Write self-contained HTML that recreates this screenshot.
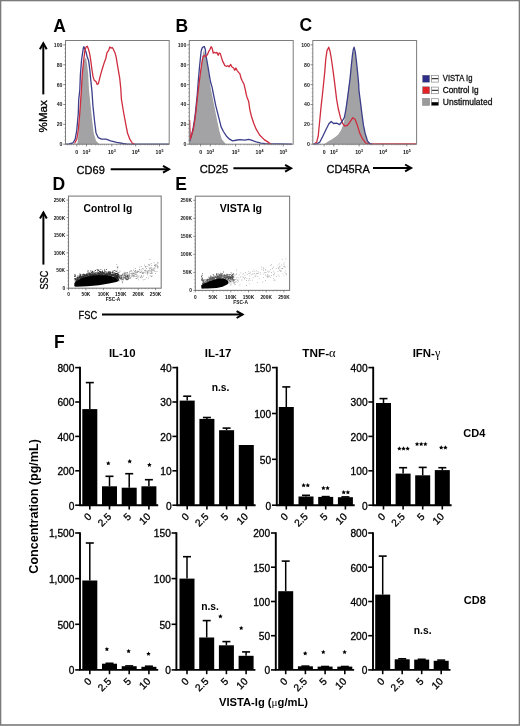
<!DOCTYPE html>
<html><head><meta charset="utf-8"><style>
html,body{margin:0;padding:0;background:#fff;}
svg{display:block;font-family:"Liberation Sans", sans-serif;will-change:transform;}
</style></head><body>
<svg width="520" height="726" viewBox="0 0 520 726">
<defs><filter id="blr" x="-10%" y="-30%" width="120%" height="160%"><feGaussianBlur stdDeviation="1"/></filter></defs>
<rect width="520" height="726" fill="#fff"/>
<rect x="0.5" y="0.5" width="519" height="724.5" fill="none" stroke="#7a7a7a" stroke-width="1.6"/>
<text x="53.2" y="32.1" font-size="17.5" font-weight="bold" text-anchor="start" fill="#000" >A</text>
<text x="175.5" y="32" font-size="17.5" font-weight="bold" text-anchor="start" fill="#000" >B</text>
<text x="299.5" y="31" font-size="17.5" font-weight="bold" text-anchor="start" fill="#000" >C</text>
<text x="52.5" y="189.8" font-size="17.5" font-weight="bold" text-anchor="start" fill="#000" >D</text>
<text x="175.3" y="189.8" font-size="17.5" font-weight="bold" text-anchor="start" fill="#000" >E</text>
<text x="54" y="348.1" font-size="17.5" font-weight="bold" text-anchor="start" fill="#000" >F</text>
<line x1="43.3" y1="94.4" x2="43.3" y2="43.3" stroke="#000" stroke-width="2.0"/>
<polyline points="46.7,49.3 43.3,43.3 39.9,49.3" fill="none" stroke="#000" stroke-width="2.0" stroke-linejoin="miter" stroke-linecap="butt"/>
<text x="46.9" y="132.8" font-size="11.6" font-weight="normal" text-anchor="start" fill="#000" transform="rotate(-90 46.8 132.5)" stroke="#000" stroke-width="0.3">%Max</text>
<text x="76.6" y="173.6" font-size="11.8" font-weight="normal" text-anchor="start" fill="#000"  textLength="28.2" lengthAdjust="spacingAndGlyphs" stroke="#000" stroke-width="0.3">CD69</text>
<line x1="110.7" y1="169.2" x2="169" y2="169.2" stroke="#000" stroke-width="2.0"/>
<polyline points="163,172.6 169,169.2 163,165.8" fill="none" stroke="#000" stroke-width="2.0" stroke-linejoin="miter" stroke-linecap="butt"/>
<text x="199.8" y="173.3" font-size="11.8" font-weight="normal" text-anchor="start" fill="#000"  textLength="28.4" lengthAdjust="spacingAndGlyphs" stroke="#000" stroke-width="0.3">CD25</text>
<line x1="233.4" y1="168.3" x2="291.1" y2="168.3" stroke="#000" stroke-width="2.0"/>
<polyline points="285.1,171.7 291.1,168.3 285.1,164.9" fill="none" stroke="#000" stroke-width="2.0" stroke-linejoin="miter" stroke-linecap="butt"/>
<text x="326.6" y="173.3" font-size="11.8" font-weight="normal" text-anchor="start" fill="#000"  textLength="43.2" lengthAdjust="spacingAndGlyphs" stroke="#000" stroke-width="0.3">CD45RA</text>
<line x1="373" y1="167.9" x2="411.1" y2="167.9" stroke="#000" stroke-width="2.0"/>
<polyline points="405.1,171.3 411.1,167.9 405.1,164.5" fill="none" stroke="#000" stroke-width="2.0" stroke-linejoin="miter" stroke-linecap="butt"/>
<rect x="65.5" y="40.5" width="103.7" height="103.7" fill="#fff"/>
<polygon points="75.5,144.2 77.5,143.3 78.3,135 79.5,118 80.4,100 81.3,86 82.2,74.6 83.4,63 84.5,59 85.4,57.8 86.3,59 87.3,66 88.2,74.6 89,90 90.6,105.4 92.2,120.8 93.7,133 96,140.8 98.3,143.2 99.5,144.2" fill="#a3a3a5" stroke="none"/>
<polyline points="66,144.2 69.1,143.8 72.9,143 75.2,139.2 76.8,130 78.3,113 78.7,100 79.8,90 80.4,74.6 81.6,59.6 83.3,48.1 83.9,46.7 85,49.2 86.2,52.7 87.3,57.3 88.5,60.2 89.7,68.8 90.8,80.4 92,91.9 92.9,105.4 94.5,120.8 96,133 98.3,137.7 101.4,139.2 106,139.2 110.6,140.8 116.8,142.3 122.9,143.5 127.5,144.2 169,144.2" fill="none" stroke="#3c3e8a" stroke-width="1.3" stroke-linejoin="round"/>
<polyline points="74.5,143.5 76.8,139.2 78.3,130 79.8,113 81.4,90 82.2,74.6 83.9,58.5 85,49.8 86.2,46.9 87.3,46.3 88.5,49.2 89.7,53.8 90.8,60.8 92,70 93.1,76.9 94.3,80.4 96,81.5 97.2,84.4 98.3,83.8 99.5,79.2 100.6,74.6 102.3,68.8 104.1,63.1 105.8,58.5 107,52.7 108.7,50.4 109.8,46.9 111,48.1 112.2,47.5 113.3,49.2 115,52.7 116.2,57.3 117.3,64.2 118.5,71.2 119.7,78.1 120.8,88.5 121.4,99.2 123.7,113 126,125.4 127.5,133 129.8,139.2 132.2,143 134.5,144.2" fill="none" stroke="#cf2c3e" stroke-width="1.3" stroke-linejoin="round"/>
<rect x="65.5" y="40.5" width="103.7" height="103.7" fill="none" stroke="#7d7d7d" stroke-width="1"/>
<line x1="63.3" y1="144.2" x2="65.5" y2="144.2" stroke="#555" stroke-width="0.7"/>
<text x="62.5" y="146.1" font-size="5.2" font-weight="bold" text-anchor="end" fill="#222" >0</text>
<line x1="64.3" y1="140.2" x2="65.5" y2="140.2" stroke="#777" stroke-width="0.5"/>
<line x1="64.3" y1="136.3" x2="65.5" y2="136.3" stroke="#777" stroke-width="0.5"/>
<line x1="64.3" y1="132.3" x2="65.5" y2="132.3" stroke="#777" stroke-width="0.5"/>
<line x1="64.3" y1="128.3" x2="65.5" y2="128.3" stroke="#777" stroke-width="0.5"/>
<line x1="63.3" y1="124.3" x2="65.5" y2="124.3" stroke="#555" stroke-width="0.7"/>
<text x="62.5" y="126.2" font-size="5.2" font-weight="bold" text-anchor="end" fill="#222" >20</text>
<line x1="64.3" y1="120.4" x2="65.5" y2="120.4" stroke="#777" stroke-width="0.5"/>
<line x1="64.3" y1="116.4" x2="65.5" y2="116.4" stroke="#777" stroke-width="0.5"/>
<line x1="64.3" y1="112.4" x2="65.5" y2="112.4" stroke="#777" stroke-width="0.5"/>
<line x1="64.3" y1="108.5" x2="65.5" y2="108.5" stroke="#777" stroke-width="0.5"/>
<line x1="63.3" y1="104.5" x2="65.5" y2="104.5" stroke="#555" stroke-width="0.7"/>
<text x="62.5" y="106.4" font-size="5.2" font-weight="bold" text-anchor="end" fill="#222" >40</text>
<line x1="64.3" y1="100.5" x2="65.5" y2="100.5" stroke="#777" stroke-width="0.5"/>
<line x1="64.3" y1="96.5" x2="65.5" y2="96.5" stroke="#777" stroke-width="0.5"/>
<line x1="64.3" y1="92.6" x2="65.5" y2="92.6" stroke="#777" stroke-width="0.5"/>
<line x1="64.3" y1="88.6" x2="65.5" y2="88.6" stroke="#777" stroke-width="0.5"/>
<line x1="63.3" y1="84.6" x2="65.5" y2="84.6" stroke="#555" stroke-width="0.7"/>
<text x="62.5" y="86.5" font-size="5.2" font-weight="bold" text-anchor="end" fill="#222" >60</text>
<line x1="64.3" y1="80.6" x2="65.5" y2="80.6" stroke="#777" stroke-width="0.5"/>
<line x1="64.3" y1="76.7" x2="65.5" y2="76.7" stroke="#777" stroke-width="0.5"/>
<line x1="64.3" y1="72.7" x2="65.5" y2="72.7" stroke="#777" stroke-width="0.5"/>
<line x1="64.3" y1="68.7" x2="65.5" y2="68.7" stroke="#777" stroke-width="0.5"/>
<line x1="63.3" y1="64.8" x2="65.5" y2="64.8" stroke="#555" stroke-width="0.7"/>
<text x="62.5" y="66.7" font-size="5.2" font-weight="bold" text-anchor="end" fill="#222" >80</text>
<line x1="64.3" y1="60.8" x2="65.5" y2="60.8" stroke="#777" stroke-width="0.5"/>
<line x1="64.3" y1="56.8" x2="65.5" y2="56.8" stroke="#777" stroke-width="0.5"/>
<line x1="64.3" y1="52.8" x2="65.5" y2="52.8" stroke="#777" stroke-width="0.5"/>
<line x1="64.3" y1="48.9" x2="65.5" y2="48.9" stroke="#777" stroke-width="0.5"/>
<line x1="63.3" y1="44.9" x2="65.5" y2="44.9" stroke="#555" stroke-width="0.7"/>
<text x="62.5" y="46.8" font-size="5.2" font-weight="bold" text-anchor="end" fill="#222" >100</text>
<line x1="76.8" y1="144.2" x2="76.8" y2="146.4" stroke="#555" stroke-width="0.7"/>
<text x="76.8" y="154.2" font-size="5.2" font-weight="bold" text-anchor="middle" fill="#111" >0</text>
<line x1="86.5" y1="144.2" x2="86.5" y2="146.4" stroke="#555" stroke-width="0.7"/>
<text x="86.5" y="154.2" font-size="5.2" font-weight="bold" text-anchor="middle" fill="#111" >10<tspan font-size="3.6" dy="-2">2</tspan></text>
<line x1="111.8" y1="144.2" x2="111.8" y2="146.4" stroke="#555" stroke-width="0.7"/>
<text x="111.8" y="154.2" font-size="5.2" font-weight="bold" text-anchor="middle" fill="#111" >10<tspan font-size="3.6" dy="-2">3</tspan></text>
<line x1="135.7" y1="144.2" x2="135.7" y2="146.4" stroke="#555" stroke-width="0.7"/>
<text x="135.7" y="154.2" font-size="5.2" font-weight="bold" text-anchor="middle" fill="#111" >10<tspan font-size="3.6" dy="-2">4</tspan></text>
<line x1="159.5" y1="144.2" x2="159.5" y2="146.4" stroke="#555" stroke-width="0.7"/>
<text x="159.5" y="154.2" font-size="5.2" font-weight="bold" text-anchor="middle" fill="#111" >10<tspan font-size="3.6" dy="-2">5</tspan></text>
<line x1="67.5" y1="144.2" x2="67.5" y2="145.4" stroke="#777" stroke-width="0.5"/>
<line x1="69.5" y1="144.2" x2="69.5" y2="145.4" stroke="#777" stroke-width="0.5"/>
<line x1="71.5" y1="144.2" x2="71.5" y2="145.4" stroke="#777" stroke-width="0.5"/>
<line x1="73.5" y1="144.2" x2="73.5" y2="145.4" stroke="#777" stroke-width="0.5"/>
<line x1="79.5" y1="144.2" x2="79.5" y2="145.4" stroke="#777" stroke-width="0.5"/>
<line x1="82.5" y1="144.2" x2="82.5" y2="145.4" stroke="#777" stroke-width="0.5"/>
<line x1="91.5" y1="144.2" x2="91.5" y2="145.4" stroke="#777" stroke-width="0.5"/>
<line x1="95.5" y1="144.2" x2="95.5" y2="145.4" stroke="#777" stroke-width="0.5"/>
<line x1="98.5" y1="144.2" x2="98.5" y2="145.4" stroke="#777" stroke-width="0.5"/>
<line x1="100.5" y1="144.2" x2="100.5" y2="145.4" stroke="#777" stroke-width="0.5"/>
<line x1="102.5" y1="144.2" x2="102.5" y2="145.4" stroke="#777" stroke-width="0.5"/>
<line x1="104.5" y1="144.2" x2="104.5" y2="145.4" stroke="#777" stroke-width="0.5"/>
<line x1="106.5" y1="144.2" x2="106.5" y2="145.4" stroke="#777" stroke-width="0.5"/>
<line x1="108.5" y1="144.2" x2="108.5" y2="145.4" stroke="#777" stroke-width="0.5"/>
<line x1="116.5" y1="144.2" x2="116.5" y2="145.4" stroke="#777" stroke-width="0.5"/>
<line x1="120.5" y1="144.2" x2="120.5" y2="145.4" stroke="#777" stroke-width="0.5"/>
<line x1="123.5" y1="144.2" x2="123.5" y2="145.4" stroke="#777" stroke-width="0.5"/>
<line x1="125.5" y1="144.2" x2="125.5" y2="145.4" stroke="#777" stroke-width="0.5"/>
<line x1="127.5" y1="144.2" x2="127.5" y2="145.4" stroke="#777" stroke-width="0.5"/>
<line x1="129.5" y1="144.2" x2="129.5" y2="145.4" stroke="#777" stroke-width="0.5"/>
<line x1="131.5" y1="144.2" x2="131.5" y2="145.4" stroke="#777" stroke-width="0.5"/>
<line x1="133.5" y1="144.2" x2="133.5" y2="145.4" stroke="#777" stroke-width="0.5"/>
<line x1="140.5" y1="144.2" x2="140.5" y2="145.4" stroke="#777" stroke-width="0.5"/>
<line x1="144.5" y1="144.2" x2="144.5" y2="145.4" stroke="#777" stroke-width="0.5"/>
<line x1="147.5" y1="144.2" x2="147.5" y2="145.4" stroke="#777" stroke-width="0.5"/>
<line x1="149.5" y1="144.2" x2="149.5" y2="145.4" stroke="#777" stroke-width="0.5"/>
<line x1="151.5" y1="144.2" x2="151.5" y2="145.4" stroke="#777" stroke-width="0.5"/>
<line x1="153.5" y1="144.2" x2="153.5" y2="145.4" stroke="#777" stroke-width="0.5"/>
<line x1="155.5" y1="144.2" x2="155.5" y2="145.4" stroke="#777" stroke-width="0.5"/>
<line x1="157.5" y1="144.2" x2="157.5" y2="145.4" stroke="#777" stroke-width="0.5"/>
<line x1="163.5" y1="144.2" x2="163.5" y2="145.4" stroke="#777" stroke-width="0.5"/>
<line x1="166.5" y1="144.2" x2="166.5" y2="145.4" stroke="#777" stroke-width="0.5"/>
<rect x="189.3" y="40.5" width="103.9" height="103.7" fill="#fff"/>
<polygon points="189.6,144.2 189.6,141 190.3,139.2 191.8,134.5 193.4,129 194.7,121 195.9,112 196.8,103 197.8,94 199,84 200.7,70.8 201.8,60 203,53 204,50 205.3,56 206.8,60 208.4,70.8 209.5,80 211.1,90 214.2,105.4 217.2,120.8 219.5,131.5 221.8,139.2 224.9,143 226,144.2" fill="#a3a3a5" stroke="none"/>
<polyline points="189.6,141.5 190.3,139.2 191.8,134 193,129 194.3,121 195.5,112 196.4,103 197.3,94 198.2,82 199.5,67 200.3,59.2 201.1,51.5 202.2,47.7 203.4,46.9 204.3,46.5 205.3,49.5 205.9,55.3 207,61.1 208.2,68 209.3,74.9 210.5,81.8 212.2,87.6 212.6,90 215.7,105.4 218.8,117.7 221.1,126.9 223.4,131.5 226.5,136.2 229.5,139.2 232.6,140.8 237.2,140 240,139.6 244.6,140.2 248.7,139.4 251.5,140.2 256.2,141.9 260.8,143.1 265.4,143.7 292,144.2" fill="none" stroke="#3c3e8a" stroke-width="1.3" stroke-linejoin="round"/>
<polyline points="189.6,120 190.3,139.2 191.8,134.5 193.4,129 194.7,121 195.9,112 196.8,103 197.8,94 199,84 200.7,70.8 201.8,63.1 203,56.9 204.2,55.4 205.3,56.5 206.5,55.9 207.6,54.2 208.8,51.3 209.9,49.5 211.1,46.7 212.2,48.4 213.2,53 214.3,52.4 215.7,53 216.8,52.4 218.2,55.3 219.2,53 220.3,53.6 221.5,57.6 222.6,61.1 223.8,63.4 224.9,65.7 226.7,66.3 227.8,65.7 229,66.8 230.7,64.5 231.8,66.8 233.6,68 234.7,70.3 235.9,68 237,70.3 238.8,72.6 239.9,73.8 241.1,78.4 242.2,80.7 244,84.2 245.1,88.8 246.3,94.5 246.9,96.9 248.7,101.5 249.8,109.6 251.5,116.5 253.8,123.5 256.2,129.2 259.6,135 264.2,139.6 267.7,141.9 271.2,144.2" fill="none" stroke="#cf2c3e" stroke-width="1.3" stroke-linejoin="round"/>
<rect x="189.3" y="40.5" width="103.9" height="103.7" fill="none" stroke="#7d7d7d" stroke-width="1"/>
<line x1="187.1" y1="144.2" x2="189.3" y2="144.2" stroke="#555" stroke-width="0.7"/>
<text x="186.3" y="146.1" font-size="5.2" font-weight="bold" text-anchor="end" fill="#222" >0</text>
<line x1="188.1" y1="140.2" x2="189.3" y2="140.2" stroke="#777" stroke-width="0.5"/>
<line x1="188.1" y1="136.3" x2="189.3" y2="136.3" stroke="#777" stroke-width="0.5"/>
<line x1="188.1" y1="132.3" x2="189.3" y2="132.3" stroke="#777" stroke-width="0.5"/>
<line x1="188.1" y1="128.3" x2="189.3" y2="128.3" stroke="#777" stroke-width="0.5"/>
<line x1="187.1" y1="124.3" x2="189.3" y2="124.3" stroke="#555" stroke-width="0.7"/>
<text x="186.3" y="126.2" font-size="5.2" font-weight="bold" text-anchor="end" fill="#222" >20</text>
<line x1="188.1" y1="120.4" x2="189.3" y2="120.4" stroke="#777" stroke-width="0.5"/>
<line x1="188.1" y1="116.4" x2="189.3" y2="116.4" stroke="#777" stroke-width="0.5"/>
<line x1="188.1" y1="112.4" x2="189.3" y2="112.4" stroke="#777" stroke-width="0.5"/>
<line x1="188.1" y1="108.5" x2="189.3" y2="108.5" stroke="#777" stroke-width="0.5"/>
<line x1="187.1" y1="104.5" x2="189.3" y2="104.5" stroke="#555" stroke-width="0.7"/>
<text x="186.3" y="106.4" font-size="5.2" font-weight="bold" text-anchor="end" fill="#222" >40</text>
<line x1="188.1" y1="100.5" x2="189.3" y2="100.5" stroke="#777" stroke-width="0.5"/>
<line x1="188.1" y1="96.5" x2="189.3" y2="96.5" stroke="#777" stroke-width="0.5"/>
<line x1="188.1" y1="92.6" x2="189.3" y2="92.6" stroke="#777" stroke-width="0.5"/>
<line x1="188.1" y1="88.6" x2="189.3" y2="88.6" stroke="#777" stroke-width="0.5"/>
<line x1="187.1" y1="84.6" x2="189.3" y2="84.6" stroke="#555" stroke-width="0.7"/>
<text x="186.3" y="86.5" font-size="5.2" font-weight="bold" text-anchor="end" fill="#222" >60</text>
<line x1="188.1" y1="80.6" x2="189.3" y2="80.6" stroke="#777" stroke-width="0.5"/>
<line x1="188.1" y1="76.7" x2="189.3" y2="76.7" stroke="#777" stroke-width="0.5"/>
<line x1="188.1" y1="72.7" x2="189.3" y2="72.7" stroke="#777" stroke-width="0.5"/>
<line x1="188.1" y1="68.7" x2="189.3" y2="68.7" stroke="#777" stroke-width="0.5"/>
<line x1="187.1" y1="64.8" x2="189.3" y2="64.8" stroke="#555" stroke-width="0.7"/>
<text x="186.3" y="66.7" font-size="5.2" font-weight="bold" text-anchor="end" fill="#222" >80</text>
<line x1="188.1" y1="60.8" x2="189.3" y2="60.8" stroke="#777" stroke-width="0.5"/>
<line x1="188.1" y1="56.8" x2="189.3" y2="56.8" stroke="#777" stroke-width="0.5"/>
<line x1="188.1" y1="52.8" x2="189.3" y2="52.8" stroke="#777" stroke-width="0.5"/>
<line x1="188.1" y1="48.9" x2="189.3" y2="48.9" stroke="#777" stroke-width="0.5"/>
<line x1="187.1" y1="44.9" x2="189.3" y2="44.9" stroke="#555" stroke-width="0.7"/>
<text x="186.3" y="46.8" font-size="5.2" font-weight="bold" text-anchor="end" fill="#222" >100</text>
<line x1="200.6" y1="144.2" x2="200.6" y2="146.4" stroke="#555" stroke-width="0.7"/>
<text x="200.6" y="154.2" font-size="5.2" font-weight="bold" text-anchor="middle" fill="#111" >0</text>
<line x1="210.3" y1="144.2" x2="210.3" y2="146.4" stroke="#555" stroke-width="0.7"/>
<text x="210.3" y="154.2" font-size="5.2" font-weight="bold" text-anchor="middle" fill="#111" >10<tspan font-size="3.6" dy="-2">2</tspan></text>
<line x1="235.6" y1="144.2" x2="235.6" y2="146.4" stroke="#555" stroke-width="0.7"/>
<text x="235.6" y="154.2" font-size="5.2" font-weight="bold" text-anchor="middle" fill="#111" >10<tspan font-size="3.6" dy="-2">3</tspan></text>
<line x1="259.5" y1="144.2" x2="259.5" y2="146.4" stroke="#555" stroke-width="0.7"/>
<text x="259.5" y="154.2" font-size="5.2" font-weight="bold" text-anchor="middle" fill="#111" >10<tspan font-size="3.6" dy="-2">4</tspan></text>
<line x1="283.3" y1="144.2" x2="283.3" y2="146.4" stroke="#555" stroke-width="0.7"/>
<text x="283.3" y="154.2" font-size="5.2" font-weight="bold" text-anchor="middle" fill="#111" >10<tspan font-size="3.6" dy="-2">5</tspan></text>
<line x1="191.3" y1="144.2" x2="191.3" y2="145.4" stroke="#777" stroke-width="0.5"/>
<line x1="193.3" y1="144.2" x2="193.3" y2="145.4" stroke="#777" stroke-width="0.5"/>
<line x1="195.3" y1="144.2" x2="195.3" y2="145.4" stroke="#777" stroke-width="0.5"/>
<line x1="197.3" y1="144.2" x2="197.3" y2="145.4" stroke="#777" stroke-width="0.5"/>
<line x1="203.3" y1="144.2" x2="203.3" y2="145.4" stroke="#777" stroke-width="0.5"/>
<line x1="206.3" y1="144.2" x2="206.3" y2="145.4" stroke="#777" stroke-width="0.5"/>
<line x1="215.3" y1="144.2" x2="215.3" y2="145.4" stroke="#777" stroke-width="0.5"/>
<line x1="219.3" y1="144.2" x2="219.3" y2="145.4" stroke="#777" stroke-width="0.5"/>
<line x1="222.3" y1="144.2" x2="222.3" y2="145.4" stroke="#777" stroke-width="0.5"/>
<line x1="224.3" y1="144.2" x2="224.3" y2="145.4" stroke="#777" stroke-width="0.5"/>
<line x1="226.3" y1="144.2" x2="226.3" y2="145.4" stroke="#777" stroke-width="0.5"/>
<line x1="228.3" y1="144.2" x2="228.3" y2="145.4" stroke="#777" stroke-width="0.5"/>
<line x1="230.3" y1="144.2" x2="230.3" y2="145.4" stroke="#777" stroke-width="0.5"/>
<line x1="232.3" y1="144.2" x2="232.3" y2="145.4" stroke="#777" stroke-width="0.5"/>
<line x1="240.3" y1="144.2" x2="240.3" y2="145.4" stroke="#777" stroke-width="0.5"/>
<line x1="244.3" y1="144.2" x2="244.3" y2="145.4" stroke="#777" stroke-width="0.5"/>
<line x1="247.3" y1="144.2" x2="247.3" y2="145.4" stroke="#777" stroke-width="0.5"/>
<line x1="249.3" y1="144.2" x2="249.3" y2="145.4" stroke="#777" stroke-width="0.5"/>
<line x1="251.3" y1="144.2" x2="251.3" y2="145.4" stroke="#777" stroke-width="0.5"/>
<line x1="253.3" y1="144.2" x2="253.3" y2="145.4" stroke="#777" stroke-width="0.5"/>
<line x1="255.3" y1="144.2" x2="255.3" y2="145.4" stroke="#777" stroke-width="0.5"/>
<line x1="257.3" y1="144.2" x2="257.3" y2="145.4" stroke="#777" stroke-width="0.5"/>
<line x1="264.3" y1="144.2" x2="264.3" y2="145.4" stroke="#777" stroke-width="0.5"/>
<line x1="268.3" y1="144.2" x2="268.3" y2="145.4" stroke="#777" stroke-width="0.5"/>
<line x1="271.3" y1="144.2" x2="271.3" y2="145.4" stroke="#777" stroke-width="0.5"/>
<line x1="273.3" y1="144.2" x2="273.3" y2="145.4" stroke="#777" stroke-width="0.5"/>
<line x1="275.3" y1="144.2" x2="275.3" y2="145.4" stroke="#777" stroke-width="0.5"/>
<line x1="277.3" y1="144.2" x2="277.3" y2="145.4" stroke="#777" stroke-width="0.5"/>
<line x1="279.3" y1="144.2" x2="279.3" y2="145.4" stroke="#777" stroke-width="0.5"/>
<line x1="281.3" y1="144.2" x2="281.3" y2="145.4" stroke="#777" stroke-width="0.5"/>
<line x1="287.3" y1="144.2" x2="287.3" y2="145.4" stroke="#777" stroke-width="0.5"/>
<line x1="290.3" y1="144.2" x2="290.3" y2="145.4" stroke="#777" stroke-width="0.5"/>
<rect x="312.8" y="40.5" width="103.8" height="103.7" fill="#fff"/>
<polygon points="324.3,144.2 328,141.5 332,139.2 336,136.5 338.2,134.6 341.2,130 342.8,125.4 344.3,120.8 345.8,108.5 348.2,90 349.5,80 351,68 352.4,57 353.5,51 354.3,49.5 355.3,53 356.4,62 357.6,73 358.7,84.2 359.6,95 360.5,102.3 362,114.6 363.5,125.4 365.1,133.1 367.4,140.8 369.3,144.2" fill="#a3a3a5" stroke="none"/>
<polyline points="314.3,143.8 316.6,142.3 318.2,136.2 319.7,120.8 321.2,105.4 322.4,95 323.5,84.2 324.7,72.6 325.8,58.8 327,50.7 328.7,47.2 329.9,50.7 331,56.5 332.2,64.5 333.3,72.6 334.5,81.8 335.5,90 336.6,99.2 338.2,108.5 340.5,117.7 342.8,123.8 345.1,126.2 347.4,125.4 349.7,122.3 352.8,117.7 355.1,119.2 357.4,125.4 359.7,133.1 362.8,139.2 365.8,143.1 370.5,143.8 416,143.8" fill="none" stroke="#cf2c3e" stroke-width="1.3" stroke-linejoin="round"/>
<polyline points="313,144.2 316.5,143.8 319.7,142.3 322.8,136.2 325.8,130 328.9,123.8 331.2,121.5 333.5,123.5 336.6,123.1 339.7,124.6 342,121.5 344.3,117.7 345.8,110 347.4,99.2 348.9,87.6 350.1,78.4 351.2,66.8 352.4,55.3 353.3,49.5 354.1,47.2 355.3,51.8 356.4,61.1 357.6,72.6 358.7,84.2 358.9,90 360.5,102.3 362,114.6 363.5,125.4 365.1,133.1 367.4,140.8 369.7,143.5 372,144.2" fill="none" stroke="#3c3e8a" stroke-width="1.3" stroke-linejoin="round"/>
<rect x="312.8" y="40.5" width="103.8" height="103.7" fill="none" stroke="#7d7d7d" stroke-width="1"/>
<line x1="310.6" y1="144.2" x2="312.8" y2="144.2" stroke="#555" stroke-width="0.7"/>
<text x="309.8" y="146.1" font-size="5.2" font-weight="bold" text-anchor="end" fill="#222" >0</text>
<line x1="311.6" y1="140.2" x2="312.8" y2="140.2" stroke="#777" stroke-width="0.5"/>
<line x1="311.6" y1="136.3" x2="312.8" y2="136.3" stroke="#777" stroke-width="0.5"/>
<line x1="311.6" y1="132.3" x2="312.8" y2="132.3" stroke="#777" stroke-width="0.5"/>
<line x1="311.6" y1="128.3" x2="312.8" y2="128.3" stroke="#777" stroke-width="0.5"/>
<line x1="310.6" y1="124.3" x2="312.8" y2="124.3" stroke="#555" stroke-width="0.7"/>
<text x="309.8" y="126.2" font-size="5.2" font-weight="bold" text-anchor="end" fill="#222" >20</text>
<line x1="311.6" y1="120.4" x2="312.8" y2="120.4" stroke="#777" stroke-width="0.5"/>
<line x1="311.6" y1="116.4" x2="312.8" y2="116.4" stroke="#777" stroke-width="0.5"/>
<line x1="311.6" y1="112.4" x2="312.8" y2="112.4" stroke="#777" stroke-width="0.5"/>
<line x1="311.6" y1="108.5" x2="312.8" y2="108.5" stroke="#777" stroke-width="0.5"/>
<line x1="310.6" y1="104.5" x2="312.8" y2="104.5" stroke="#555" stroke-width="0.7"/>
<text x="309.8" y="106.4" font-size="5.2" font-weight="bold" text-anchor="end" fill="#222" >40</text>
<line x1="311.6" y1="100.5" x2="312.8" y2="100.5" stroke="#777" stroke-width="0.5"/>
<line x1="311.6" y1="96.5" x2="312.8" y2="96.5" stroke="#777" stroke-width="0.5"/>
<line x1="311.6" y1="92.6" x2="312.8" y2="92.6" stroke="#777" stroke-width="0.5"/>
<line x1="311.6" y1="88.6" x2="312.8" y2="88.6" stroke="#777" stroke-width="0.5"/>
<line x1="310.6" y1="84.6" x2="312.8" y2="84.6" stroke="#555" stroke-width="0.7"/>
<text x="309.8" y="86.5" font-size="5.2" font-weight="bold" text-anchor="end" fill="#222" >60</text>
<line x1="311.6" y1="80.6" x2="312.8" y2="80.6" stroke="#777" stroke-width="0.5"/>
<line x1="311.6" y1="76.7" x2="312.8" y2="76.7" stroke="#777" stroke-width="0.5"/>
<line x1="311.6" y1="72.7" x2="312.8" y2="72.7" stroke="#777" stroke-width="0.5"/>
<line x1="311.6" y1="68.7" x2="312.8" y2="68.7" stroke="#777" stroke-width="0.5"/>
<line x1="310.6" y1="64.8" x2="312.8" y2="64.8" stroke="#555" stroke-width="0.7"/>
<text x="309.8" y="66.7" font-size="5.2" font-weight="bold" text-anchor="end" fill="#222" >80</text>
<line x1="311.6" y1="60.8" x2="312.8" y2="60.8" stroke="#777" stroke-width="0.5"/>
<line x1="311.6" y1="56.8" x2="312.8" y2="56.8" stroke="#777" stroke-width="0.5"/>
<line x1="311.6" y1="52.8" x2="312.8" y2="52.8" stroke="#777" stroke-width="0.5"/>
<line x1="311.6" y1="48.9" x2="312.8" y2="48.9" stroke="#777" stroke-width="0.5"/>
<line x1="310.6" y1="44.9" x2="312.8" y2="44.9" stroke="#555" stroke-width="0.7"/>
<text x="309.8" y="46.8" font-size="5.2" font-weight="bold" text-anchor="end" fill="#222" >100</text>
<line x1="324.1" y1="144.2" x2="324.1" y2="146.4" stroke="#555" stroke-width="0.7"/>
<text x="324.1" y="154.2" font-size="5.2" font-weight="bold" text-anchor="middle" fill="#111" >0</text>
<line x1="333.8" y1="144.2" x2="333.8" y2="146.4" stroke="#555" stroke-width="0.7"/>
<text x="333.8" y="154.2" font-size="5.2" font-weight="bold" text-anchor="middle" fill="#111" >10<tspan font-size="3.6" dy="-2">2</tspan></text>
<line x1="359.1" y1="144.2" x2="359.1" y2="146.4" stroke="#555" stroke-width="0.7"/>
<text x="359.1" y="154.2" font-size="5.2" font-weight="bold" text-anchor="middle" fill="#111" >10<tspan font-size="3.6" dy="-2">3</tspan></text>
<line x1="383" y1="144.2" x2="383" y2="146.4" stroke="#555" stroke-width="0.7"/>
<text x="383" y="154.2" font-size="5.2" font-weight="bold" text-anchor="middle" fill="#111" >10<tspan font-size="3.6" dy="-2">4</tspan></text>
<line x1="406.8" y1="144.2" x2="406.8" y2="146.4" stroke="#555" stroke-width="0.7"/>
<text x="406.8" y="154.2" font-size="5.2" font-weight="bold" text-anchor="middle" fill="#111" >10<tspan font-size="3.6" dy="-2">5</tspan></text>
<line x1="314.8" y1="144.2" x2="314.8" y2="145.4" stroke="#777" stroke-width="0.5"/>
<line x1="316.8" y1="144.2" x2="316.8" y2="145.4" stroke="#777" stroke-width="0.5"/>
<line x1="318.8" y1="144.2" x2="318.8" y2="145.4" stroke="#777" stroke-width="0.5"/>
<line x1="320.8" y1="144.2" x2="320.8" y2="145.4" stroke="#777" stroke-width="0.5"/>
<line x1="326.8" y1="144.2" x2="326.8" y2="145.4" stroke="#777" stroke-width="0.5"/>
<line x1="329.8" y1="144.2" x2="329.8" y2="145.4" stroke="#777" stroke-width="0.5"/>
<line x1="338.8" y1="144.2" x2="338.8" y2="145.4" stroke="#777" stroke-width="0.5"/>
<line x1="342.8" y1="144.2" x2="342.8" y2="145.4" stroke="#777" stroke-width="0.5"/>
<line x1="345.8" y1="144.2" x2="345.8" y2="145.4" stroke="#777" stroke-width="0.5"/>
<line x1="347.8" y1="144.2" x2="347.8" y2="145.4" stroke="#777" stroke-width="0.5"/>
<line x1="349.8" y1="144.2" x2="349.8" y2="145.4" stroke="#777" stroke-width="0.5"/>
<line x1="351.8" y1="144.2" x2="351.8" y2="145.4" stroke="#777" stroke-width="0.5"/>
<line x1="353.8" y1="144.2" x2="353.8" y2="145.4" stroke="#777" stroke-width="0.5"/>
<line x1="355.8" y1="144.2" x2="355.8" y2="145.4" stroke="#777" stroke-width="0.5"/>
<line x1="363.8" y1="144.2" x2="363.8" y2="145.4" stroke="#777" stroke-width="0.5"/>
<line x1="367.8" y1="144.2" x2="367.8" y2="145.4" stroke="#777" stroke-width="0.5"/>
<line x1="370.8" y1="144.2" x2="370.8" y2="145.4" stroke="#777" stroke-width="0.5"/>
<line x1="372.8" y1="144.2" x2="372.8" y2="145.4" stroke="#777" stroke-width="0.5"/>
<line x1="374.8" y1="144.2" x2="374.8" y2="145.4" stroke="#777" stroke-width="0.5"/>
<line x1="376.8" y1="144.2" x2="376.8" y2="145.4" stroke="#777" stroke-width="0.5"/>
<line x1="378.8" y1="144.2" x2="378.8" y2="145.4" stroke="#777" stroke-width="0.5"/>
<line x1="380.8" y1="144.2" x2="380.8" y2="145.4" stroke="#777" stroke-width="0.5"/>
<line x1="387.8" y1="144.2" x2="387.8" y2="145.4" stroke="#777" stroke-width="0.5"/>
<line x1="391.8" y1="144.2" x2="391.8" y2="145.4" stroke="#777" stroke-width="0.5"/>
<line x1="394.8" y1="144.2" x2="394.8" y2="145.4" stroke="#777" stroke-width="0.5"/>
<line x1="396.8" y1="144.2" x2="396.8" y2="145.4" stroke="#777" stroke-width="0.5"/>
<line x1="398.8" y1="144.2" x2="398.8" y2="145.4" stroke="#777" stroke-width="0.5"/>
<line x1="400.8" y1="144.2" x2="400.8" y2="145.4" stroke="#777" stroke-width="0.5"/>
<line x1="402.8" y1="144.2" x2="402.8" y2="145.4" stroke="#777" stroke-width="0.5"/>
<line x1="404.8" y1="144.2" x2="404.8" y2="145.4" stroke="#777" stroke-width="0.5"/>
<line x1="410.8" y1="144.2" x2="410.8" y2="145.4" stroke="#777" stroke-width="0.5"/>
<line x1="413.8" y1="144.2" x2="413.8" y2="145.4" stroke="#777" stroke-width="0.5"/>
<rect x="422.6" y="75.2" width="7" height="7" fill="#2e2e8a" stroke="#666" stroke-width="0.4"/>
<rect x="431.6" y="75.5" width="6.8" height="6.6" fill="#fff" stroke="#888" stroke-width="0.7"/>
<line x1="431.8" y1="78.7" x2="438.2" y2="78.7" stroke="#111" stroke-width="1"/>
<text x="442.8" y="81.3" font-size="8.4" font-weight="normal" text-anchor="start" fill="#111" stroke="#111" stroke-width="0.3" textLength="29.6" lengthAdjust="spacingAndGlyphs">VISTA Ig</text>
<rect x="422.6" y="86.8" width="7" height="7" fill="#e22226" stroke="#666" stroke-width="0.4"/>
<rect x="431.6" y="87.1" width="6.8" height="6.6" fill="#fff" stroke="#888" stroke-width="0.7"/>
<line x1="431.8" y1="90.3" x2="438.2" y2="90.3" stroke="#111" stroke-width="1"/>
<text x="442.8" y="92.9" font-size="8.4" font-weight="normal" text-anchor="start" fill="#111" stroke="#111" stroke-width="0.3" textLength="35.8" lengthAdjust="spacingAndGlyphs">Control Ig</text>
<rect x="422.6" y="98.4" width="7" height="7" fill="#9a9a9a" stroke="#666" stroke-width="0.4"/>
<rect x="431.6" y="98.7" width="6.8" height="6.6" fill="#fff" stroke="#888" stroke-width="0.7"/>
<rect x="431.6" y="102.2" width="6.8" height="3.1" fill="#000"/>
<text x="442.8" y="104.5" font-size="8.4" font-weight="normal" text-anchor="start" fill="#111" stroke="#111" stroke-width="0.3" textLength="49.6" lengthAdjust="spacingAndGlyphs">Unstimulated</text>
<rect x="68.5" y="196.1" width="92.7" height="92.1" fill="none" stroke="#7d7d7d" stroke-width="1.1"/>
<line x1="66.5" y1="288.2" x2="68.5" y2="288.2" stroke="#444" stroke-width="0.6"/>
<text x="65.1" y="290" font-size="4.8" font-weight="bold" text-anchor="end" fill="#111" >0</text>
<line x1="68.5" y1="288.2" x2="68.5" y2="290.2" stroke="#444" stroke-width="0.6"/>
<text x="68.5" y="296.4" font-size="4.8" font-weight="bold" text-anchor="middle" fill="#111" >0</text>
<line x1="67.4" y1="284.7" x2="68.5" y2="284.7" stroke="#666" stroke-width="0.45"/>
<line x1="72" y1="288.2" x2="72" y2="289.3" stroke="#666" stroke-width="0.45"/>
<line x1="67.4" y1="281.1" x2="68.5" y2="281.1" stroke="#666" stroke-width="0.45"/>
<line x1="75.5" y1="288.2" x2="75.5" y2="289.3" stroke="#666" stroke-width="0.45"/>
<line x1="67.4" y1="277.6" x2="68.5" y2="277.6" stroke="#666" stroke-width="0.45"/>
<line x1="79" y1="288.2" x2="79" y2="289.3" stroke="#666" stroke-width="0.45"/>
<line x1="67.4" y1="274.1" x2="68.5" y2="274.1" stroke="#666" stroke-width="0.45"/>
<line x1="82.4" y1="288.2" x2="82.4" y2="289.3" stroke="#666" stroke-width="0.45"/>
<line x1="66.5" y1="270.6" x2="68.5" y2="270.6" stroke="#444" stroke-width="0.6"/>
<text x="65.1" y="272.4" font-size="4.8" font-weight="bold" text-anchor="end" fill="#111" >50K</text>
<line x1="85.9" y1="288.2" x2="85.9" y2="290.2" stroke="#444" stroke-width="0.6"/>
<text x="85.9" y="296.4" font-size="4.8" font-weight="bold" text-anchor="middle" fill="#111" >50K</text>
<line x1="67.4" y1="267" x2="68.5" y2="267" stroke="#666" stroke-width="0.45"/>
<line x1="89.4" y1="288.2" x2="89.4" y2="289.3" stroke="#666" stroke-width="0.45"/>
<line x1="67.4" y1="263.5" x2="68.5" y2="263.5" stroke="#666" stroke-width="0.45"/>
<line x1="92.9" y1="288.2" x2="92.9" y2="289.3" stroke="#666" stroke-width="0.45"/>
<line x1="67.4" y1="260" x2="68.5" y2="260" stroke="#666" stroke-width="0.45"/>
<line x1="96.4" y1="288.2" x2="96.4" y2="289.3" stroke="#666" stroke-width="0.45"/>
<line x1="67.4" y1="256.5" x2="68.5" y2="256.5" stroke="#666" stroke-width="0.45"/>
<line x1="99.9" y1="288.2" x2="99.9" y2="289.3" stroke="#666" stroke-width="0.45"/>
<line x1="66.5" y1="252.9" x2="68.5" y2="252.9" stroke="#444" stroke-width="0.6"/>
<text x="65.1" y="254.7" font-size="4.8" font-weight="bold" text-anchor="end" fill="#111" >100K</text>
<line x1="103.4" y1="288.2" x2="103.4" y2="290.2" stroke="#444" stroke-width="0.6"/>
<text x="103.4" y="296.4" font-size="4.8" font-weight="bold" text-anchor="middle" fill="#111" >100K</text>
<line x1="67.4" y1="249.4" x2="68.5" y2="249.4" stroke="#666" stroke-width="0.45"/>
<line x1="106.8" y1="288.2" x2="106.8" y2="289.3" stroke="#666" stroke-width="0.45"/>
<line x1="67.4" y1="245.9" x2="68.5" y2="245.9" stroke="#666" stroke-width="0.45"/>
<line x1="110.3" y1="288.2" x2="110.3" y2="289.3" stroke="#666" stroke-width="0.45"/>
<line x1="67.4" y1="242.4" x2="68.5" y2="242.4" stroke="#666" stroke-width="0.45"/>
<line x1="113.8" y1="288.2" x2="113.8" y2="289.3" stroke="#666" stroke-width="0.45"/>
<line x1="67.4" y1="238.8" x2="68.5" y2="238.8" stroke="#666" stroke-width="0.45"/>
<line x1="117.3" y1="288.2" x2="117.3" y2="289.3" stroke="#666" stroke-width="0.45"/>
<line x1="66.5" y1="235.3" x2="68.5" y2="235.3" stroke="#444" stroke-width="0.6"/>
<text x="65.1" y="237.1" font-size="4.8" font-weight="bold" text-anchor="end" fill="#111" >150K</text>
<line x1="120.8" y1="288.2" x2="120.8" y2="290.2" stroke="#444" stroke-width="0.6"/>
<text x="120.8" y="296.4" font-size="4.8" font-weight="bold" text-anchor="middle" fill="#111" >150K</text>
<line x1="67.4" y1="231.8" x2="68.5" y2="231.8" stroke="#666" stroke-width="0.45"/>
<line x1="124.3" y1="288.2" x2="124.3" y2="289.3" stroke="#666" stroke-width="0.45"/>
<line x1="67.4" y1="228.3" x2="68.5" y2="228.3" stroke="#666" stroke-width="0.45"/>
<line x1="127.8" y1="288.2" x2="127.8" y2="289.3" stroke="#666" stroke-width="0.45"/>
<line x1="67.4" y1="224.7" x2="68.5" y2="224.7" stroke="#666" stroke-width="0.45"/>
<line x1="131.2" y1="288.2" x2="131.2" y2="289.3" stroke="#666" stroke-width="0.45"/>
<line x1="67.4" y1="221.2" x2="68.5" y2="221.2" stroke="#666" stroke-width="0.45"/>
<line x1="134.7" y1="288.2" x2="134.7" y2="289.3" stroke="#666" stroke-width="0.45"/>
<line x1="66.5" y1="217.7" x2="68.5" y2="217.7" stroke="#444" stroke-width="0.6"/>
<text x="65.1" y="219.5" font-size="4.8" font-weight="bold" text-anchor="end" fill="#111" >200K</text>
<line x1="138.2" y1="288.2" x2="138.2" y2="290.2" stroke="#444" stroke-width="0.6"/>
<text x="138.2" y="296.4" font-size="4.8" font-weight="bold" text-anchor="middle" fill="#111" >200K</text>
<line x1="67.4" y1="214.2" x2="68.5" y2="214.2" stroke="#666" stroke-width="0.45"/>
<line x1="141.7" y1="288.2" x2="141.7" y2="289.3" stroke="#666" stroke-width="0.45"/>
<line x1="67.4" y1="210.6" x2="68.5" y2="210.6" stroke="#666" stroke-width="0.45"/>
<line x1="145.2" y1="288.2" x2="145.2" y2="289.3" stroke="#666" stroke-width="0.45"/>
<line x1="67.4" y1="207.1" x2="68.5" y2="207.1" stroke="#666" stroke-width="0.45"/>
<line x1="148.7" y1="288.2" x2="148.7" y2="289.3" stroke="#666" stroke-width="0.45"/>
<line x1="67.4" y1="203.6" x2="68.5" y2="203.6" stroke="#666" stroke-width="0.45"/>
<line x1="152.2" y1="288.2" x2="152.2" y2="289.3" stroke="#666" stroke-width="0.45"/>
<line x1="66.5" y1="200.1" x2="68.5" y2="200.1" stroke="#444" stroke-width="0.6"/>
<text x="65.1" y="201.9" font-size="4.8" font-weight="bold" text-anchor="end" fill="#111" >250K</text>
<line x1="155.6" y1="288.2" x2="155.6" y2="290.2" stroke="#444" stroke-width="0.6"/>
<text x="155.6" y="296.4" font-size="4.8" font-weight="bold" text-anchor="middle" fill="#111" >250K</text>
<text x="113" y="301.4" font-size="4.8" font-weight="bold" text-anchor="middle" fill="#111" >FSC-A</text>
<polygon points="74.4,283 76.9,280.8 81.5,278.2 87.3,276.6 93,275.6 98.8,275.2 104.6,275.2 110.4,275.8 114,277.2 117,279 118.5,281 116.2,282 110.4,283.2 98.8,285.2 87.3,286.3 75.8,286.8 74.3,286.2" fill="#000"/>
<path d="M93.9 270.7h0.9v0.9h-0.9zM94.5 273.1h0.9v0.9h-0.9zM96.3 273.5h0.9v0.9h-0.9zM96.5 273.9h0.9v0.9h-0.9zM101.7 274.4h0.9v0.9h-0.9zM87.3 274.8h0.9v0.9h-0.9zM78 280h0.9v0.9h-0.9zM75.8 277.7h0.9v0.9h-0.9zM117.2 278.6h0.9v0.9h-0.9zM101.1 273.7h0.9v0.9h-0.9zM80.9 279.6h0.9v0.9h-0.9zM76.6 280.1h0.9v0.9h-0.9zM82.4 276.9h0.9v0.9h-0.9zM94.4 275.2h0.9v0.9h-0.9zM93.4 276h0.9v0.9h-0.9zM102.2 272.3h0.9v0.9h-0.9zM96 273.5h0.9v0.9h-0.9zM86.2 274.1h0.9v0.9h-0.9zM117.9 279.7h0.9v0.9h-0.9zM105.1 273.9h0.9v0.9h-0.9zM87.9 275.7h0.9v0.9h-0.9zM77.1 281.1h0.9v0.9h-0.9zM107.7 271.5h0.9v0.9h-0.9zM91 277.1h0.9v0.9h-0.9zM116.2 275.9h0.9v0.9h-0.9zM83.2 276.6h0.9v0.9h-0.9zM114.1 270.2h0.9v0.9h-0.9zM91.5 275.9h0.9v0.9h-0.9zM77.2 277.2h0.9v0.9h-0.9zM85.9 273.6h0.9v0.9h-0.9zM77.8 276.6h0.9v0.9h-0.9zM107.4 278.6h0.9v0.9h-0.9zM79.2 278.1h0.9v0.9h-0.9zM76.6 280.7h0.9v0.9h-0.9zM109.1 275.7h0.9v0.9h-0.9zM93.7 276.9h0.9v0.9h-0.9zM82.4 276.8h0.9v0.9h-0.9zM102.3 273.2h0.9v0.9h-0.9zM79.1 277h0.9v0.9h-0.9zM85.9 276.7h0.9v0.9h-0.9zM116.7 276.4h0.9v0.9h-0.9zM112.9 273.8h0.9v0.9h-0.9zM83.3 273.7h0.9v0.9h-0.9zM102.2 276.5h0.9v0.9h-0.9zM78.4 279.9h0.9v0.9h-0.9zM85.4 276.1h0.9v0.9h-0.9zM108 273.7h0.9v0.9h-0.9zM77.2 280.8h0.9v0.9h-0.9zM78 277.7h0.9v0.9h-0.9zM100.5 273.6h0.9v0.9h-0.9zM90.4 270.4h0.9v0.9h-0.9zM95.3 276h0.9v0.9h-0.9zM99.3 275.2h0.9v0.9h-0.9zM80.8 276.4h0.9v0.9h-0.9zM114 276.1h0.9v0.9h-0.9zM82.4 275.6h0.9v0.9h-0.9zM106.5 275.4h0.9v0.9h-0.9zM115.8 275.3h0.9v0.9h-0.9zM112.8 273.7h0.9v0.9h-0.9zM78.6 277.3h0.9v0.9h-0.9zM75.7 281.9h0.9v0.9h-0.9zM105 273.7h0.9v0.9h-0.9zM85.3 277.3h0.9v0.9h-0.9zM86.9 273.5h0.9v0.9h-0.9zM81.7 276.9h0.9v0.9h-0.9zM84 275.8h0.9v0.9h-0.9zM98.6 276h0.9v0.9h-0.9zM86.3 273.8h0.9v0.9h-0.9zM114.4 275.6h0.9v0.9h-0.9zM85.8 276.4h0.9v0.9h-0.9zM93.6 275.9h0.9v0.9h-0.9zM90.2 275.4h0.9v0.9h-0.9zM99.2 275.6h0.9v0.9h-0.9zM113.2 276.7h0.9v0.9h-0.9zM117.1 274.3h0.9v0.9h-0.9zM99.7 271.9h0.9v0.9h-0.9zM80.2 277.8h0.9v0.9h-0.9zM114 275.6h0.9v0.9h-0.9zM104.8 274.4h0.9v0.9h-0.9zM102 274.1h0.9v0.9h-0.9zM95.2 274.4h0.9v0.9h-0.9zM118 274.4h0.9v0.9h-0.9zM77.3 276.4h0.9v0.9h-0.9zM113.6 274.5h0.9v0.9h-0.9zM106.4 273.3h0.9v0.9h-0.9zM114.3 272.3h0.9v0.9h-0.9zM89.5 273.5h0.9v0.9h-0.9zM112.3 271.4h0.9v0.9h-0.9zM92.4 275.8h0.9v0.9h-0.9zM99.2 270.7h0.9v0.9h-0.9zM101.5 272.4h0.9v0.9h-0.9zM100.8 276h0.9v0.9h-0.9zM77.5 275.4h0.9v0.9h-0.9zM112.7 270.6h0.9v0.9h-0.9zM106 271.8h0.9v0.9h-0.9zM99.6 276.4h0.9v0.9h-0.9zM93.4 275.2h0.9v0.9h-0.9zM107 273.7h0.9v0.9h-0.9zM75.3 279h0.9v0.9h-0.9zM84.1 275.2h0.9v0.9h-0.9zM104.7 271.4h0.9v0.9h-0.9zM114.5 275.6h0.9v0.9h-0.9zM85.3 277.8h0.9v0.9h-0.9zM103.8 274.2h0.9v0.9h-0.9zM82.9 278.8h0.9v0.9h-0.9zM103 277.7h0.9v0.9h-0.9zM93.4 276.1h0.9v0.9h-0.9zM103.3 273h0.9v0.9h-0.9zM82.7 273.7h0.9v0.9h-0.9zM114.2 277h0.9v0.9h-0.9zM112.7 273.4h0.9v0.9h-0.9zM87.9 277.2h0.9v0.9h-0.9zM80 273.9h0.9v0.9h-0.9zM111.3 275.1h0.9v0.9h-0.9zM105.3 275.5h0.9v0.9h-0.9zM81.4 276.7h0.9v0.9h-0.9zM93.8 274.5h0.9v0.9h-0.9zM92.2 276.2h0.9v0.9h-0.9zM101.5 272.6h0.9v0.9h-0.9zM110.9 275h0.9v0.9h-0.9zM117.2 275.2h0.9v0.9h-0.9zM75.4 281h0.9v0.9h-0.9zM112.4 278.1h0.9v0.9h-0.9zM99.1 275.2h0.9v0.9h-0.9zM87.6 275.7h0.9v0.9h-0.9zM80 277.2h0.9v0.9h-0.9zM94 278.3h0.9v0.9h-0.9zM84.4 276.9h0.9v0.9h-0.9zM80.2 280h0.9v0.9h-0.9zM93.6 275.5h0.9v0.9h-0.9zM101.7 272.3h0.9v0.9h-0.9zM116.2 273h0.9v0.9h-0.9zM104.1 274.7h0.9v0.9h-0.9zM81.9 279.1h0.9v0.9h-0.9zM74.5 274h0.9v0.9h-0.9zM81.9 277.6h0.9v0.9h-0.9zM86 274.3h0.9v0.9h-0.9zM96.9 277h0.9v0.9h-0.9zM101 274.3h0.9v0.9h-0.9zM108.8 272.7h0.9v0.9h-0.9zM113.9 279.2h0.9v0.9h-0.9zM105.8 276.4h0.9v0.9h-0.9zM79.7 275.1h0.9v0.9h-0.9zM114 276.2h0.9v0.9h-0.9zM90.6 271.4h0.9v0.9h-0.9zM109.1 273h0.9v0.9h-0.9zM115.5 273h0.9v0.9h-0.9zM83 277.4h0.9v0.9h-0.9zM105.8 275.3h0.9v0.9h-0.9zM105.6 271.6h0.9v0.9h-0.9zM83.4 281h0.9v0.9h-0.9zM117 272.8h0.9v0.9h-0.9zM97.6 274.9h0.9v0.9h-0.9zM114 273.9h0.9v0.9h-0.9zM111.7 274.6h0.9v0.9h-0.9zM93.4 275.4h0.9v0.9h-0.9zM98.2 274.7h0.9v0.9h-0.9zM75.3 278.6h0.9v0.9h-0.9zM109.6 277.9h0.9v0.9h-0.9zM81.6 278.4h0.9v0.9h-0.9zM88.7 275.6h0.9v0.9h-0.9zM80.5 276.3h0.9v0.9h-0.9zM96.7 274h0.9v0.9h-0.9zM104.3 270.5h0.9v0.9h-0.9zM115.6 271.1h0.9v0.9h-0.9zM77.8 279.3h0.9v0.9h-0.9zM83.7 275h0.9v0.9h-0.9zM106.1 273.9h0.9v0.9h-0.9zM102.1 270.6h0.9v0.9h-0.9zM98.6 273.9h0.9v0.9h-0.9zM87.7 272.9h0.9v0.9h-0.9zM113.6 277.9h0.9v0.9h-0.9zM83.2 279.7h0.9v0.9h-0.9zM97.1 270.5h0.9v0.9h-0.9zM99.2 275.1h0.9v0.9h-0.9zM96.1 276.8h0.9v0.9h-0.9zM100.6 279.2h0.9v0.9h-0.9zM96.7 275.4h0.9v0.9h-0.9zM91.6 275.7h0.9v0.9h-0.9zM95.6 272.3h0.9v0.9h-0.9zM104.4 276.2h0.9v0.9h-0.9zM92.2 275.8h0.9v0.9h-0.9zM116.1 277.1h0.9v0.9h-0.9zM94.8 274h0.9v0.9h-0.9zM79.6 274.6h0.9v0.9h-0.9zM113.6 276.8h0.9v0.9h-0.9zM95 274.2h0.9v0.9h-0.9zM101.2 275.4h0.9v0.9h-0.9zM114.7 277.9h0.9v0.9h-0.9zM75 283.4h0.9v0.9h-0.9zM82.5 277.3h0.9v0.9h-0.9zM88.2 278.3h0.9v0.9h-0.9zM89.6 274.4h0.9v0.9h-0.9zM106.2 273.6h0.9v0.9h-0.9zM79.4 276.5h0.9v0.9h-0.9zM82.7 276.7h0.9v0.9h-0.9zM97.3 272.8h0.9v0.9h-0.9zM92.2 275.6h0.9v0.9h-0.9zM97.3 275.2h0.9v0.9h-0.9zM101.8 275.3h0.9v0.9h-0.9zM102.1 270.5h0.9v0.9h-0.9zM100.9 273.6h0.9v0.9h-0.9zM111.7 275.4h0.9v0.9h-0.9zM109.7 277.9h0.9v0.9h-0.9zM113.7 274.8h0.9v0.9h-0.9zM114.6 277.1h0.9v0.9h-0.9zM83.6 280.6h0.9v0.9h-0.9zM79.9 277.5h0.9v0.9h-0.9zM84.5 276.2h0.9v0.9h-0.9zM78.3 277.3h0.9v0.9h-0.9zM110.6 272h0.9v0.9h-0.9zM79.5 279.4h0.9v0.9h-0.9zM91.7 274.7h0.9v0.9h-0.9zM82.8 276.5h0.9v0.9h-0.9zM104 278.3h0.9v0.9h-0.9zM79.1 275.5h0.9v0.9h-0.9zM96.2 274.7h0.9v0.9h-0.9zM104.2 271.8h0.9v0.9h-0.9zM82.3 277.7h0.9v0.9h-0.9zM75.6 280.9h0.9v0.9h-0.9zM98.3 272h0.9v0.9h-0.9zM80.4 277.2h0.9v0.9h-0.9zM82.1 278h0.9v0.9h-0.9zM117.6 279.5h0.9v0.9h-0.9zM114.8 276.2h0.9v0.9h-0.9zM115.9 276.2h0.9v0.9h-0.9zM94.3 274.9h0.9v0.9h-0.9zM94.5 273h0.9v0.9h-0.9zM96.7 272.2h0.9v0.9h-0.9zM74.6 278.1h0.9v0.9h-0.9zM104.8 274.7h0.9v0.9h-0.9zM94 273.7h0.9v0.9h-0.9zM106.5 273.2h0.9v0.9h-0.9zM81.3 277.9h0.9v0.9h-0.9zM96.6 278.6h0.9v0.9h-0.9zM109.3 275.1h0.9v0.9h-0.9zM105 275.7h0.9v0.9h-0.9zM91.8 272.8h0.9v0.9h-0.9zM100.4 268.9h0.9v0.9h-0.9zM109.4 274.6h0.9v0.9h-0.9zM85.4 278.8h0.9v0.9h-0.9zM108.2 272.9h0.9v0.9h-0.9zM109.8 271.4h0.9v0.9h-0.9zM112.7 277.5h0.9v0.9h-0.9zM104.6 274.4h0.9v0.9h-0.9zM91.9 271.7h0.9v0.9h-0.9zM105.8 275.7h0.9v0.9h-0.9zM94.6 275.4h0.9v0.9h-0.9zM74.5 275.3h0.9v0.9h-0.9zM101.5 276.4h0.9v0.9h-0.9zM84.2 279.1h0.9v0.9h-0.9zM88.9 274.3h0.9v0.9h-0.9zM103 272h0.9v0.9h-0.9zM91.1 273.9h0.9v0.9h-0.9zM118 274.2h0.9v0.9h-0.9zM107.5 272.1h0.9v0.9h-0.9zM117.1 278.5h0.9v0.9h-0.9zM106.5 274.6h0.9v0.9h-0.9zM85.3 275.7h0.9v0.9h-0.9zM82.6 277.2h0.9v0.9h-0.9zM90.5 276.1h0.9v0.9h-0.9zM113.8 276.3h0.9v0.9h-0.9zM98.2 269.5h0.9v0.9h-0.9zM99 274.2h0.9v0.9h-0.9zM117.8 273.8h0.9v0.9h-0.9zM77.4 276.7h0.9v0.9h-0.9zM100.3 274.3h0.9v0.9h-0.9zM114.9 275h0.9v0.9h-0.9zM81 276.1h0.9v0.9h-0.9zM95.8 274.8h0.9v0.9h-0.9zM100.9 278.5h0.9v0.9h-0.9zM92.5 276.5h0.9v0.9h-0.9zM97.2 273h0.9v0.9h-0.9zM86.6 274.8h0.9v0.9h-0.9zM102.8 272.7h0.9v0.9h-0.9zM105.5 273.5h0.9v0.9h-0.9zM87 277.2h0.9v0.9h-0.9zM75.9 280.5h0.9v0.9h-0.9zM80.9 277.3h0.9v0.9h-0.9zM113.5 273.5h0.9v0.9h-0.9zM106.9 279.7h0.9v0.9h-0.9zM115.6 277.5h0.9v0.9h-0.9zM77.2 281.1h0.9v0.9h-0.9zM95 273.5h0.9v0.9h-0.9zM116.8 276h0.9v0.9h-0.9zM115.2 278h0.9v0.9h-0.9zM105.8 269h0.9v0.9h-0.9zM109.9 275.8h0.9v0.9h-0.9zM100.6 276.3h0.9v0.9h-0.9zM94.1 276.5h0.9v0.9h-0.9zM83 279h0.9v0.9h-0.9zM79.5 278.6h0.9v0.9h-0.9zM93.5 273.7h0.9v0.9h-0.9zM85.5 274.3h0.9v0.9h-0.9zM99.6 271.5h0.9v0.9h-0.9zM97.4 276.1h0.9v0.9h-0.9zM117.9 279h0.9v0.9h-0.9zM84.5 275.5h0.9v0.9h-0.9zM79 280.8h0.9v0.9h-0.9zM101.5 272.2h0.9v0.9h-0.9zM89.8 274.7h0.9v0.9h-0.9zM98.9 277.3h0.9v0.9h-0.9zM100 272.2h0.9v0.9h-0.9zM82.4 274.6h0.9v0.9h-0.9zM85 280.5h0.9v0.9h-0.9zM112.7 274.7h0.9v0.9h-0.9zM75.7 281.9h0.9v0.9h-0.9zM92.7 275.4h0.9v0.9h-0.9zM101.4 276.1h0.9v0.9h-0.9zM77.2 280.9h0.9v0.9h-0.9zM77.8 278h0.9v0.9h-0.9zM101.8 272.1h0.9v0.9h-0.9zM90.4 273.7h0.9v0.9h-0.9zM89.1 275.4h0.9v0.9h-0.9zM106.8 274.7h0.9v0.9h-0.9zM79.3 277.4h0.9v0.9h-0.9zM109.6 272.4h0.9v0.9h-0.9zM83.4 274.4h0.9v0.9h-0.9zM92.7 274.6h0.9v0.9h-0.9zM90.2 278.4h0.9v0.9h-0.9zM102.8 275.8h0.9v0.9h-0.9zM98.1 274.3h0.9v0.9h-0.9zM106.8 276.1h0.9v0.9h-0.9zM90.2 274h0.9v0.9h-0.9zM78.3 279.3h0.9v0.9h-0.9zM77.7 278.6h0.9v0.9h-0.9zM98.8 271.5h0.9v0.9h-0.9zM87.2 276h0.9v0.9h-0.9zM108.1 275.7h0.9v0.9h-0.9zM103.1 274.7h0.9v0.9h-0.9zM77.6 278.2h0.9v0.9h-0.9zM104.5 276.9h0.9v0.9h-0.9zM86.4 277h0.9v0.9h-0.9zM105.9 275.6h0.9v0.9h-0.9zM90.1 277.2h0.9v0.9h-0.9zM99 276.4h0.9v0.9h-0.9zM114.4 279.4h0.9v0.9h-0.9zM93.3 273.2h0.9v0.9h-0.9zM109.3 274.1h0.9v0.9h-0.9zM91.6 276.5h0.9v0.9h-0.9zM115.1 276.8h0.9v0.9h-0.9zM89.9 274.1h0.9v0.9h-0.9zM90.1 273.7h0.9v0.9h-0.9zM91.1 276.4h0.9v0.9h-0.9zM82.6 273.7h0.9v0.9h-0.9zM97.8 273.2h0.9v0.9h-0.9zM110.8 273.9h0.9v0.9h-0.9zM107.4 273.9h0.9v0.9h-0.9zM112.8 275.2h0.9v0.9h-0.9zM96.7 274.9h0.9v0.9h-0.9zM97.9 270h0.9v0.9h-0.9zM102.7 272.1h0.9v0.9h-0.9zM109.4 276.9h0.9v0.9h-0.9zM108.7 275.5h0.9v0.9h-0.9zM77.7 281.8h0.9v0.9h-0.9zM113.6 276.9h0.9v0.9h-0.9zM77.7 278.4h0.9v0.9h-0.9zM106.8 273.5h0.9v0.9h-0.9zM102.6 274.2h0.9v0.9h-0.9zM107.7 275.8h0.9v0.9h-0.9zM96.9 274.7h0.9v0.9h-0.9zM88.9 273.4h0.9v0.9h-0.9zM116.6 274.8h0.9v0.9h-0.9zM97.6 272.5h0.9v0.9h-0.9zM105.7 273h0.9v0.9h-0.9zM92.1 270.8h0.9v0.9h-0.9zM110.4 273h0.9v0.9h-0.9zM109.5 271.5h0.9v0.9h-0.9zM110.7 278.6h0.9v0.9h-0.9zM102.2 271.1h0.9v0.9h-0.9zM97 273.7h0.9v0.9h-0.9zM92.6 271.5h0.9v0.9h-0.9zM92.5 276.7h0.9v0.9h-0.9zM117.6 278.5h0.9v0.9h-0.9zM90.5 275.6h0.9v0.9h-0.9zM92.7 275.9h0.9v0.9h-0.9zM86.8 276.4h0.9v0.9h-0.9zM87.6 275.5h0.9v0.9h-0.9zM79.1 276.2h0.9v0.9h-0.9zM81.9 274.4h0.9v0.9h-0.9zM76.7 277.3h0.9v0.9h-0.9zM114 276.1h0.9v0.9h-0.9zM75.6 281.5h0.9v0.9h-0.9zM83.6 277.4h0.9v0.9h-0.9zM84.4 275.9h0.9v0.9h-0.9zM83.9 274h0.9v0.9h-0.9zM82.1 276.7h0.9v0.9h-0.9zM107.3 275.5h0.9v0.9h-0.9zM87.7 272.2h0.9v0.9h-0.9zM95.1 273.6h0.9v0.9h-0.9zM85.5 279.3h0.9v0.9h-0.9zM89.1 272.5h0.9v0.9h-0.9zM98.1 276.6h0.9v0.9h-0.9zM83.7 276h0.9v0.9h-0.9zM76.2 283.4h0.9v0.9h-0.9zM90.9 273.8h0.9v0.9h-0.9zM97.2 273h0.9v0.9h-0.9zM117.6 275.8h0.9v0.9h-0.9zM102.9 274.2h0.9v0.9h-0.9zM94.8 275h0.9v0.9h-0.9zM90.3 275.8h0.9v0.9h-0.9zM100.7 271.4h0.9v0.9h-0.9zM80.9 278.2h0.9v0.9h-0.9zM85.4 277.5h0.9v0.9h-0.9zM112.2 272.5h0.9v0.9h-0.9zM117.7 275.7h0.9v0.9h-0.9zM85.7 275h0.9v0.9h-0.9zM107.9 274.2h0.9v0.9h-0.9zM74.1 278.6h0.9v0.9h-0.9zM110.2 271.5h0.9v0.9h-0.9zM77.6 278.8h0.9v0.9h-0.9zM78.3 281.7h0.9v0.9h-0.9zM95.1 270h0.9v0.9h-0.9zM99.8 275.3h0.9v0.9h-0.9zM111.7 274h0.9v0.9h-0.9zM92.3 278h0.9v0.9h-0.9zM114.3 278.5h0.9v0.9h-0.9zM83.2 278.6h0.9v0.9h-0.9zM97.9 273.4h0.9v0.9h-0.9zM110.6 274.7h0.9v0.9h-0.9zM87.7 275.3h0.9v0.9h-0.9zM87.5 276.3h0.9v0.9h-0.9zM94.6 274.3h0.9v0.9h-0.9zM104.2 272.3h0.9v0.9h-0.9zM78.7 276.8h0.9v0.9h-0.9zM116.5 277.2h0.9v0.9h-0.9zM110.5 274.7h0.9v0.9h-0.9zM90.6 274.7h0.9v0.9h-0.9zM105.2 274.2h0.9v0.9h-0.9zM94.2 277.2h0.9v0.9h-0.9zM74.5 280.4h0.9v0.9h-0.9zM83.1 276.5h0.9v0.9h-0.9zM101.1 273.8h0.9v0.9h-0.9zM97.7 276.3h0.9v0.9h-0.9zM87.1 274.7h0.9v0.9h-0.9zM103.3 275.7h0.9v0.9h-0.9zM85.3 277.1h0.9v0.9h-0.9zM88.5 278.3h0.9v0.9h-0.9zM115.6 272.9h0.9v0.9h-0.9zM88.6 274.2h0.9v0.9h-0.9zM110.4 275.8h0.9v0.9h-0.9zM78.2 279.4h0.9v0.9h-0.9zM103.8 273.8h0.9v0.9h-0.9zM91.7 273.7h0.9v0.9h-0.9zM110.8 274.3h0.9v0.9h-0.9zM84 276.1h0.9v0.9h-0.9zM80.9 278.7h0.9v0.9h-0.9zM77.2 280.8h0.9v0.9h-0.9zM114.5 273.5h0.9v0.9h-0.9zM102.5 275.2h0.9v0.9h-0.9zM107.7 275.3h0.9v0.9h-0.9zM88.6 273.7h0.9v0.9h-0.9zM92.1 276.8h0.9v0.9h-0.9zM104.8 274.2h0.9v0.9h-0.9zM117.2 276.6h0.9v0.9h-0.9zM100.8 271.6h0.9v0.9h-0.9zM74.8 276.2h0.9v0.9h-0.9zM102.6 275.7h0.9v0.9h-0.9zM78.7 276.8h0.9v0.9h-0.9zM108.7 276.2h0.9v0.9h-0.9zM110.3 274h0.9v0.9h-0.9zM107.7 273.7h0.9v0.9h-0.9zM113.7 273.7h0.9v0.9h-0.9zM96 274.1h0.9v0.9h-0.9zM80.2 276.2h0.9v0.9h-0.9zM96.7 269.1h0.9v0.9h-0.9zM105.5 274.7h0.9v0.9h-0.9zM115.6 274.6h0.9v0.9h-0.9zM101.6 274.5h0.9v0.9h-0.9zM84.8 277.1h0.9v0.9h-0.9zM99.4 273.8h0.9v0.9h-0.9zM114.9 274h0.9v0.9h-0.9zM89.9 274.1h0.9v0.9h-0.9zM116.8 276.1h0.9v0.9h-0.9zM80 279.5h0.9v0.9h-0.9zM98.7 273.1h0.9v0.9h-0.9zM98.7 274h0.9v0.9h-0.9zM117.7 280.1h0.9v0.9h-0.9zM110 274h0.9v0.9h-0.9zM110.3 274.3h0.9v0.9h-0.9zM86.7 277h0.9v0.9h-0.9zM99.2 273.5h0.9v0.9h-0.9zM110.6 275.9h0.9v0.9h-0.9zM77.4 281.6h0.9v0.9h-0.9zM75.4 283.1h0.9v0.9h-0.9zM115.3 280.8h0.9v0.9h-0.9zM103 273.1h0.9v0.9h-0.9zM106.5 276.9h0.9v0.9h-0.9zM90.8 272.1h0.9v0.9h-0.9zM74.7 275.1h0.9v0.9h-0.9zM82.8 275.8h0.9v0.9h-0.9zM91 275.1h0.9v0.9h-0.9zM99.1 275.5h0.9v0.9h-0.9zM85.6 278.1h0.9v0.9h-0.9zM99 273.1h0.9v0.9h-0.9zM75.7 282.9h0.9v0.9h-0.9zM103.5 277.1h0.9v0.9h-0.9zM100.4 278.1h0.9v0.9h-0.9zM94.7 272.4h0.9v0.9h-0.9zM104.3 275.4h0.9v0.9h-0.9zM107.4 274.4h0.9v0.9h-0.9zM117.8 273.8h0.9v0.9h-0.9zM110.9 276.2h0.9v0.9h-0.9zM93.1 273.3h0.9v0.9h-0.9zM98.9 276.3h0.9v0.9h-0.9zM97.1 273.2h0.9v0.9h-0.9zM93 276.2h0.9v0.9h-0.9zM76.4 279.1h0.9v0.9h-0.9zM105.9 276.6h0.9v0.9h-0.9zM100.3 272.5h0.9v0.9h-0.9zM107.1 273.5h0.9v0.9h-0.9zM77.1 281.9h0.9v0.9h-0.9zM79.5 275.7h0.9v0.9h-0.9zM91.5 275.6h0.9v0.9h-0.9zM76.3 279.3h0.9v0.9h-0.9zM84.5 274.2h0.9v0.9h-0.9zM87.5 274.5h0.9v0.9h-0.9zM77 280.4h0.9v0.9h-0.9zM114.1 278.2h0.9v0.9h-0.9zM112.1 274.6h0.9v0.9h-0.9zM92.5 275.3h0.9v0.9h-0.9zM106.9 273h0.9v0.9h-0.9zM98.9 275.1h0.9v0.9h-0.9zM108.9 274.1h0.9v0.9h-0.9zM79.4 273.4h0.9v0.9h-0.9zM74 275.9h0.9v0.9h-0.9zM84.7 275.8h0.9v0.9h-0.9zM76.8 281.4h0.9v0.9h-0.9zM113.4 276.1h0.9v0.9h-0.9zM89.7 273.3h0.9v0.9h-0.9zM99.8 274.8h0.9v0.9h-0.9zM113.5 275.5h0.9v0.9h-0.9zM87.5 271.2h0.9v0.9h-0.9zM117 276h0.9v0.9h-0.9zM94.8 275.1h0.9v0.9h-0.9zM114.6 277.1h0.9v0.9h-0.9zM113.5 276.6h0.9v0.9h-0.9zM89.6 278.5h0.9v0.9h-0.9zM94.8 276.5h0.9v0.9h-0.9zM117.8 279.5h0.9v0.9h-0.9zM82.9 275.9h0.9v0.9h-0.9zM112.7 274.3h0.9v0.9h-0.9zM76.2 282.6h0.9v0.9h-0.9zM87.8 277.4h0.9v0.9h-0.9zM113.6 277.5h0.9v0.9h-0.9zM79.9 275.4h0.9v0.9h-0.9zM104.6 275.9h0.9v0.9h-0.9zM77.5 278.5h0.9v0.9h-0.9zM83.8 275.5h0.9v0.9h-0.9zM82.6 279.6h0.9v0.9h-0.9zM82 277.3h0.9v0.9h-0.9zM108.8 277.4h0.9v0.9h-0.9zM90.4 272.9h0.9v0.9h-0.9zM100 271h0.9v0.9h-0.9zM84.1 275.1h0.9v0.9h-0.9zM103.3 278.2h0.9v0.9h-0.9zM86.2 275.4h0.9v0.9h-0.9zM117.3 275.3h0.9v0.9h-0.9zM93.4 272.5h0.9v0.9h-0.9zM76 279.9h0.9v0.9h-0.9zM100.4 274h0.9v0.9h-0.9zM109.3 276.1h0.9v0.9h-0.9zM77.8 278.3h0.9v0.9h-0.9zM84.8 279.4h0.9v0.9h-0.9zM86.3 274.8h0.9v0.9h-0.9zM113.5 275h0.9v0.9h-0.9zM117.5 278h0.9v0.9h-0.9zM107 274.8h0.9v0.9h-0.9zM90.9 277h0.9v0.9h-0.9zM81.9 276.1h0.9v0.9h-0.9zM98.5 273.3h0.9v0.9h-0.9zM103 272.7h0.9v0.9h-0.9zM108.5 272.3h0.9v0.9h-0.9zM111.2 274.8h0.9v0.9h-0.9zM104.1 269.4h0.9v0.9h-0.9zM81.7 276.5h0.9v0.9h-0.9zM108.3 275.9h0.9v0.9h-0.9zM84.4 278.7h0.9v0.9h-0.9zM93.4 275.3h0.9v0.9h-0.9zM108.8 271.3h0.9v0.9h-0.9zM84.4 275.1h0.9v0.9h-0.9zM99.5 274.5h0.9v0.9h-0.9zM96 277.1h0.9v0.9h-0.9zM105.4 274.6h0.9v0.9h-0.9zM99.2 275.2h0.9v0.9h-0.9zM80.7 276.5h0.9v0.9h-0.9zM74.8 275h0.9v0.9h-0.9zM93.4 274.8h0.9v0.9h-0.9zM85.6 276.3h0.9v0.9h-0.9zM113.9 274.8h0.9v0.9h-0.9zM99 271.2h0.9v0.9h-0.9zM84.5 275.5h0.9v0.9h-0.9zM80.4 277.2h0.9v0.9h-0.9zM87.8 276.1h0.9v0.9h-0.9zM101.3 272.8h0.9v0.9h-0.9zM99.9 274.1h0.9v0.9h-0.9zM77.9 279.5h0.9v0.9h-0.9zM85.2 275.1h0.9v0.9h-0.9zM81 275.9h0.9v0.9h-0.9zM108.6 271.3h0.9v0.9h-0.9zM76.7 278.3h0.9v0.9h-0.9zM83.5 277.6h0.9v0.9h-0.9zM116.7 278h0.9v0.9h-0.9zM107.5 275h0.9v0.9h-0.9zM117.4 277.3h0.9v0.9h-0.9zM106.8 275.9h0.9v0.9h-0.9zM75.7 280.7h0.9v0.9h-0.9zM80.2 281.4h0.9v0.9h-0.9zM91.3 274.3h0.9v0.9h-0.9zM77.4 281.3h0.9v0.9h-0.9zM75.5 283.9h0.9v0.9h-0.9zM106.3 274.1h0.9v0.9h-0.9zM84.1 276.4h0.9v0.9h-0.9zM84.6 278.7h0.9v0.9h-0.9zM94.3 276.4h0.9v0.9h-0.9zM88.8 274.5h0.9v0.9h-0.9zM117.2 275.5h0.9v0.9h-0.9zM91.7 274.5h0.9v0.9h-0.9zM102.6 275.8h0.9v0.9h-0.9zM104.6 274.7h0.9v0.9h-0.9zM112 271.8h0.9v0.9h-0.9zM94.4 272.6h0.9v0.9h-0.9zM91.3 275.9h0.9v0.9h-0.9zM108.4 273h0.9v0.9h-0.9zM83.5 275.9h0.9v0.9h-0.9zM98.2 275.4h0.9v0.9h-0.9zM81.2 277.6h0.9v0.9h-0.9zM94.6 276h0.9v0.9h-0.9zM87.6 269.9h0.9v0.9h-0.9zM103.9 276h0.9v0.9h-0.9zM112 275.7h0.9v0.9h-0.9zM77.2 281.2h0.9v0.9h-0.9zM104.4 273h0.9v0.9h-0.9zM74.8 278.2h0.9v0.9h-0.9zM82 276.9h0.9v0.9h-0.9zM114.6 277.5h0.9v0.9h-0.9zM105.5 273.9h0.9v0.9h-0.9zM80.8 279.1h0.9v0.9h-0.9zM115.2 273.6h0.9v0.9h-0.9zM105.8 276.6h0.9v0.9h-0.9zM113.9 277.1h0.9v0.9h-0.9zM90.9 275.2h0.9v0.9h-0.9zM77.7 280.4h0.9v0.9h-0.9zM107.9 273.3h0.9v0.9h-0.9zM96.8 276.3h0.9v0.9h-0.9zM84.5 277h0.9v0.9h-0.9zM75.8 281.9h0.9v0.9h-0.9zM75.4 282.8h0.9v0.9h-0.9zM87.7 273.4h0.9v0.9h-0.9zM80 278.6h0.9v0.9h-0.9zM105.1 273.8h0.9v0.9h-0.9zM103.3 277.2h0.9v0.9h-0.9zM80.5 277.8h0.9v0.9h-0.9zM105.4 275.5h0.9v0.9h-0.9zM91.8 272h0.9v0.9h-0.9zM83.9 279h0.9v0.9h-0.9zM86.9 275h0.9v0.9h-0.9zM75.8 281.5h0.9v0.9h-0.9zM75.1 279.3h0.9v0.9h-0.9zM109.6 273h0.9v0.9h-0.9zM116.9 275.1h0.9v0.9h-0.9zM114.4 278.2h0.9v0.9h-0.9zM83.5 275.6h0.9v0.9h-0.9zM116 273.2h0.9v0.9h-0.9zM112.2 275.4h0.9v0.9h-0.9zM78 281.6h0.9v0.9h-0.9zM92.8 274.3h0.9v0.9h-0.9zM90.9 275.4h0.9v0.9h-0.9zM88.4 273.9h0.9v0.9h-0.9zM81 277.3h0.9v0.9h-0.9zM91.7 273.8h0.9v0.9h-0.9zM103.3 274.3h0.9v0.9h-0.9zM84.6 277.8h0.9v0.9h-0.9zM92.6 275.8h0.9v0.9h-0.9zM80.6 274.8h0.9v0.9h-0.9zM98.3 273h0.9v0.9h-0.9zM104.8 275.9h0.9v0.9h-0.9zM90 275.3h0.9v0.9h-0.9zM76.8 279.2h0.9v0.9h-0.9zM95.8 275h0.9v0.9h-0.9zM99.8 272.7h0.9v0.9h-0.9zM85.1 276.5h0.9v0.9h-0.9zM75 278.7h0.9v0.9h-0.9zM98.9 277.7h0.9v0.9h-0.9zM85.5 275.5h0.9v0.9h-0.9zM94.6 273.6h0.9v0.9h-0.9zM101.1 276h0.9v0.9h-0.9zM99.4 273.9h0.9v0.9h-0.9zM115.5 276.1h0.9v0.9h-0.9zM101.3 271.6h0.9v0.9h-0.9zM92.1 273.5h0.9v0.9h-0.9zM110.5 275.7h0.9v0.9h-0.9zM112.7 272.2h0.9v0.9h-0.9zM75.7 283.3h0.9v0.9h-0.9zM80 275.9h0.9v0.9h-0.9zM89.9 275h0.9v0.9h-0.9zM117 276.6h0.9v0.9h-0.9zM84.1 277.5h0.9v0.9h-0.9zM103.9 274.1h0.9v0.9h-0.9zM97.9 274.6h0.9v0.9h-0.9z" fill="#000" fill-opacity="0.8"/>
<path d="M119.5 277h0.9v0.9h-0.9zM123.1 279.4h0.9v0.9h-0.9zM121.7 275h0.9v0.9h-0.9zM125.6 274.6h0.9v0.9h-0.9zM127.6 275.3h0.9v0.9h-0.9zM126.4 278.2h0.9v0.9h-0.9zM118.4 276.1h0.9v0.9h-0.9zM123.6 273.5h0.9v0.9h-0.9zM127.5 276.9h0.9v0.9h-0.9zM122.7 275.8h0.9v0.9h-0.9zM120.9 275h0.9v0.9h-0.9zM118 275.9h0.9v0.9h-0.9zM124.5 275.1h0.9v0.9h-0.9zM117.5 276.4h0.9v0.9h-0.9zM118.5 277.9h0.9v0.9h-0.9zM115.8 279h0.9v0.9h-0.9zM114.9 277.5h0.9v0.9h-0.9zM123.9 277.2h0.9v0.9h-0.9zM115.6 273h0.9v0.9h-0.9zM120.7 278.1h0.9v0.9h-0.9zM116.3 279.6h0.9v0.9h-0.9zM114.7 273.2h0.9v0.9h-0.9zM117.6 272.8h0.9v0.9h-0.9zM119.5 276.7h0.9v0.9h-0.9zM124 276.7h0.9v0.9h-0.9zM118.6 280.3h0.9v0.9h-0.9zM118.7 277h0.9v0.9h-0.9zM125.6 272.3h0.9v0.9h-0.9zM121.9 274h0.9v0.9h-0.9zM122.7 278.6h0.9v0.9h-0.9zM125.6 276.9h0.9v0.9h-0.9zM119.3 275.8h0.9v0.9h-0.9zM123.4 277h0.9v0.9h-0.9zM114.2 277.9h0.9v0.9h-0.9zM122.2 282.4h0.9v0.9h-0.9zM115.9 274.5h0.9v0.9h-0.9zM123.6 274.1h0.9v0.9h-0.9zM119.6 278.4h0.9v0.9h-0.9zM127.1 277.1h0.9v0.9h-0.9zM124 276.7h0.9v0.9h-0.9zM115.7 278.3h0.9v0.9h-0.9zM124.2 277.2h0.9v0.9h-0.9zM127.9 277.7h0.9v0.9h-0.9zM114.4 277.9h0.9v0.9h-0.9zM121.6 274.9h0.9v0.9h-0.9zM118.3 277h0.9v0.9h-0.9zM125.2 277.5h0.9v0.9h-0.9zM119.5 275.3h0.9v0.9h-0.9zM122.6 277.5h0.9v0.9h-0.9zM119.5 270.7h0.9v0.9h-0.9zM123.7 273h0.9v0.9h-0.9zM116.1 275.5h0.9v0.9h-0.9zM116.5 280.7h0.9v0.9h-0.9zM117.5 279.9h0.9v0.9h-0.9zM120.8 278.3h0.9v0.9h-0.9zM114.3 277.9h0.9v0.9h-0.9zM121.9 278.9h0.9v0.9h-0.9zM117.8 279.2h0.9v0.9h-0.9zM117.2 274.6h0.9v0.9h-0.9zM117.6 277h0.9v0.9h-0.9zM114.7 280.8h0.9v0.9h-0.9zM118.3 278.6h0.9v0.9h-0.9zM115.1 277.6h0.9v0.9h-0.9zM128 278.6h0.9v0.9h-0.9zM116.8 278.4h0.9v0.9h-0.9zM119.8 275h0.9v0.9h-0.9zM125.3 276h0.9v0.9h-0.9zM121.7 277.4h0.9v0.9h-0.9zM123.2 275.6h0.9v0.9h-0.9zM127.1 275.1h0.9v0.9h-0.9zM126.1 278.9h0.9v0.9h-0.9zM125.7 276.5h0.9v0.9h-0.9zM124.1 277h0.9v0.9h-0.9zM116.4 277.1h0.9v0.9h-0.9zM115.7 278.5h0.9v0.9h-0.9zM124.5 277.6h0.9v0.9h-0.9zM118.3 276.5h0.9v0.9h-0.9zM116.9 276.7h0.9v0.9h-0.9zM127.4 279h0.9v0.9h-0.9zM125.3 276.8h0.9v0.9h-0.9zM125.1 276.4h0.9v0.9h-0.9zM125.2 274.4h0.9v0.9h-0.9zM125.6 277.3h0.9v0.9h-0.9zM115.4 270.2h0.9v0.9h-0.9zM127.3 273.5h0.9v0.9h-0.9zM117.5 278.7h0.9v0.9h-0.9zM126.7 279.3h0.9v0.9h-0.9zM117.2 277.1h0.9v0.9h-0.9zM119.4 274.6h0.9v0.9h-0.9zM125.4 278.9h0.9v0.9h-0.9zM119.1 275.5h0.9v0.9h-0.9zM117.9 275.2h0.9v0.9h-0.9zM126.7 276h0.9v0.9h-0.9zM118.7 277.7h0.9v0.9h-0.9zM124.4 277.6h0.9v0.9h-0.9zM121.6 280.5h0.9v0.9h-0.9zM123.5 277.3h0.9v0.9h-0.9zM116 277.6h0.9v0.9h-0.9zM118.9 276.5h0.9v0.9h-0.9zM121 277.1h0.9v0.9h-0.9zM119.6 275.7h0.9v0.9h-0.9zM127.3 278.8h0.9v0.9h-0.9zM116.9 278.1h0.9v0.9h-0.9zM124.6 275.4h0.9v0.9h-0.9zM115.5 278.9h0.9v0.9h-0.9zM127.5 276.1h0.9v0.9h-0.9zM117.1 273.8h0.9v0.9h-0.9zM116.5 278.5h0.9v0.9h-0.9zM117.8 274.4h0.9v0.9h-0.9zM118.5 272h0.9v0.9h-0.9z" fill="#000" fill-opacity="0.55"/>
<path d="M123.7 271.8h0.8v0.8h-0.8zM122.2 281.7h0.8v0.8h-0.8zM142.7 268.6h0.8v0.8h-0.8zM124.9 278.1h0.8v0.8h-0.8zM141.9 276.9h0.8v0.8h-0.8zM142.4 267.9h0.8v0.8h-0.8zM137.2 271.7h0.8v0.8h-0.8zM151.2 269.3h0.8v0.8h-0.8zM145 266.8h0.8v0.8h-0.8zM133.6 275h0.8v0.8h-0.8zM132.2 274.5h0.8v0.8h-0.8zM140.1 276.7h0.8v0.8h-0.8zM137.6 277.1h0.8v0.8h-0.8zM134.8 274.3h0.8v0.8h-0.8zM140.9 266.3h0.8v0.8h-0.8zM122.4 273.5h0.8v0.8h-0.8zM135.7 278.1h0.8v0.8h-0.8zM129.1 274.5h0.8v0.8h-0.8zM146.9 274.5h0.8v0.8h-0.8zM152.4 269.5h0.8v0.8h-0.8zM121.3 279.2h0.8v0.8h-0.8zM125.8 275.4h0.8v0.8h-0.8zM151.3 264.9h0.8v0.8h-0.8zM150.8 263.2h0.8v0.8h-0.8zM149.5 259.1h0.8v0.8h-0.8zM118.7 276.8h0.8v0.8h-0.8zM152.5 269.1h0.8v0.8h-0.8zM149.9 267.7h0.8v0.8h-0.8zM135.1 267.9h0.8v0.8h-0.8zM124.2 274.9h0.8v0.8h-0.8zM127.7 274.5h0.8v0.8h-0.8zM139.3 271.7h0.8v0.8h-0.8zM149.1 267.9h0.8v0.8h-0.8zM149.6 270.6h0.8v0.8h-0.8zM151.9 270.5h0.8v0.8h-0.8zM154 264.7h0.8v0.8h-0.8zM149.5 272.4h0.8v0.8h-0.8zM120.2 278.6h0.8v0.8h-0.8zM117.5 266.3h0.8v0.8h-0.8zM151 276.1h0.8v0.8h-0.8zM120.9 277.7h0.8v0.8h-0.8zM151.7 273.3h0.8v0.8h-0.8zM141.9 273.1h0.8v0.8h-0.8zM157.5 267.7h0.8v0.8h-0.8zM124.7 272.5h0.8v0.8h-0.8zM146.6 266.1h0.8v0.8h-0.8zM124.3 274.7h0.8v0.8h-0.8zM116.6 266.7h0.8v0.8h-0.8zM130.3 273h0.8v0.8h-0.8zM127.7 278.3h0.8v0.8h-0.8zM141.3 271.6h0.8v0.8h-0.8zM121.4 275.4h0.8v0.8h-0.8zM145.1 269.7h0.8v0.8h-0.8zM120.9 277h0.8v0.8h-0.8zM155.5 266.3h0.8v0.8h-0.8zM124.2 274.6h0.8v0.8h-0.8zM157.8 266.2h0.8v0.8h-0.8zM131.1 270.2h0.8v0.8h-0.8zM129 273.5h0.8v0.8h-0.8zM142.5 273h0.8v0.8h-0.8zM133.8 275h0.8v0.8h-0.8zM135.2 270.8h0.8v0.8h-0.8zM137.3 275.6h0.8v0.8h-0.8zM145.6 270.3h0.8v0.8h-0.8zM125.9 273.8h0.8v0.8h-0.8zM152.7 268.3h0.8v0.8h-0.8zM128 277.3h0.8v0.8h-0.8zM135.1 270.1h0.8v0.8h-0.8zM155.2 264.3h0.8v0.8h-0.8zM141.3 275.6h0.8v0.8h-0.8zM134.8 276.3h0.8v0.8h-0.8zM127.8 276.1h0.8v0.8h-0.8zM134.5 275.9h0.8v0.8h-0.8zM145.2 270.7h0.8v0.8h-0.8zM144.2 271.8h0.8v0.8h-0.8zM121.6 278.9h0.8v0.8h-0.8zM153.6 269.5h0.8v0.8h-0.8zM130.3 277.2h0.8v0.8h-0.8zM150.5 273.1h0.8v0.8h-0.8zM138.9 269.4h0.8v0.8h-0.8zM120.2 277.7h0.8v0.8h-0.8zM131.3 273.6h0.8v0.8h-0.8zM131.7 273.5h0.8v0.8h-0.8zM130.4 270.6h0.8v0.8h-0.8zM153.7 270.3h0.8v0.8h-0.8zM142.6 271.8h0.8v0.8h-0.8zM135.7 271.3h0.8v0.8h-0.8zM129.3 276.9h0.8v0.8h-0.8zM144.2 264.7h0.8v0.8h-0.8zM157 262.3h0.8v0.8h-0.8zM157.7 262.7h0.8v0.8h-0.8zM143.3 275.6h0.8v0.8h-0.8zM145.4 272.6h0.8v0.8h-0.8zM135.4 273.4h0.8v0.8h-0.8zM132.9 272.9h0.8v0.8h-0.8zM157.6 266.3h0.8v0.8h-0.8zM124.8 274.9h0.8v0.8h-0.8zM132.6 275.1h0.8v0.8h-0.8zM147.2 272.8h0.8v0.8h-0.8zM143.3 272.8h0.8v0.8h-0.8zM142.2 271.9h0.8v0.8h-0.8zM150.1 267.6h0.8v0.8h-0.8zM146.7 271.4h0.8v0.8h-0.8zM135.7 271.9h0.8v0.8h-0.8zM116.7 271.5h0.8v0.8h-0.8zM153.6 262.5h0.8v0.8h-0.8zM117 267.1h0.8v0.8h-0.8zM138.4 275.8h0.8v0.8h-0.8zM120.7 277.3h0.8v0.8h-0.8zM137.3 270.6h0.8v0.8h-0.8zM121.2 275.7h0.8v0.8h-0.8zM119.7 276.6h0.8v0.8h-0.8zM137.5 271.6h0.8v0.8h-0.8zM126.4 279.4h0.8v0.8h-0.8zM133.4 275.7h0.8v0.8h-0.8zM135 274.2h0.8v0.8h-0.8zM139.4 266.8h0.8v0.8h-0.8zM120.4 277.9h0.8v0.8h-0.8zM151.7 275.5h0.8v0.8h-0.8zM138 279.5h0.8v0.8h-0.8zM133.1 269.7h0.8v0.8h-0.8zM156.5 263.8h0.8v0.8h-0.8zM133.4 275.4h0.8v0.8h-0.8zM150.4 270.4h0.8v0.8h-0.8zM146.8 270.6h0.8v0.8h-0.8zM138.3 271.1h0.8v0.8h-0.8zM117.2 269.8h0.8v0.8h-0.8zM156.6 271h0.8v0.8h-0.8zM143 272.5h0.8v0.8h-0.8zM133.5 273.1h0.8v0.8h-0.8zM119.3 277.1h0.8v0.8h-0.8zM154.6 271.1h0.8v0.8h-0.8zM129.8 270.8h0.8v0.8h-0.8zM153.2 270h0.8v0.8h-0.8zM155.8 264.8h0.8v0.8h-0.8zM154 267.6h0.8v0.8h-0.8zM132.6 272.6h0.8v0.8h-0.8zM126.8 279.1h0.8v0.8h-0.8zM131.5 271.5h0.8v0.8h-0.8zM131.1 275.6h0.8v0.8h-0.8zM134.1 272.8h0.8v0.8h-0.8zM151.1 270.4h0.8v0.8h-0.8zM118.6 274.8h0.8v0.8h-0.8zM132.8 273.3h0.8v0.8h-0.8zM125.4 277.5h0.8v0.8h-0.8zM129.2 276.1h0.8v0.8h-0.8zM136.3 273.8h0.8v0.8h-0.8zM136.5 278h0.8v0.8h-0.8zM116.4 264.3h0.8v0.8h-0.8zM116.3 271.3h0.8v0.8h-0.8zM140.9 275.2h0.8v0.8h-0.8zM141.1 271.5h0.8v0.8h-0.8zM131.5 273h0.8v0.8h-0.8zM140.8 276.4h0.8v0.8h-0.8zM129.2 271.6h0.8v0.8h-0.8zM147.7 270.9h0.8v0.8h-0.8zM118.2 278.7h0.8v0.8h-0.8zM127.3 276.2h0.8v0.8h-0.8zM149.4 264.2h0.8v0.8h-0.8zM132.9 276.4h0.8v0.8h-0.8zM128 274.5h0.8v0.8h-0.8zM157.3 267.1h0.8v0.8h-0.8zM150.9 268.6h0.8v0.8h-0.8zM150.4 273h0.8v0.8h-0.8zM149.1 269.8h0.8v0.8h-0.8zM148.1 269.9h0.8v0.8h-0.8zM118 275.7h0.8v0.8h-0.8zM154.9 265.8h0.8v0.8h-0.8zM142.8 279.4h0.8v0.8h-0.8zM147.6 272h0.8v0.8h-0.8zM140.4 277.5h0.8v0.8h-0.8zM133.6 273.9h0.8v0.8h-0.8zM144.5 279h0.8v0.8h-0.8zM119.1 276.7h0.8v0.8h-0.8zM148.8 265.1h0.8v0.8h-0.8zM131.9 275.8h0.8v0.8h-0.8zM134.8 272.2h0.8v0.8h-0.8zM129.4 275.1h0.8v0.8h-0.8zM146.9 272.6h0.8v0.8h-0.8zM151 270.9h0.8v0.8h-0.8zM144 270.2h0.8v0.8h-0.8zM121 276.4h0.8v0.8h-0.8zM129 277.9h0.8v0.8h-0.8zM154.7 267.8h0.8v0.8h-0.8zM124.9 273.3h0.8v0.8h-0.8zM151.2 272.4h0.8v0.8h-0.8zM121.2 278.4h0.8v0.8h-0.8zM117.3 266.9h0.8v0.8h-0.8zM134.1 270.7h0.8v0.8h-0.8zM155 273.2h0.8v0.8h-0.8zM136.7 272.1h0.8v0.8h-0.8zM148.7 267.4h0.8v0.8h-0.8zM120.4 276.8h0.8v0.8h-0.8zM140.6 270.5h0.8v0.8h-0.8zM124.5 275.1h0.8v0.8h-0.8zM130.7 275.7h0.8v0.8h-0.8zM140.8 269.2h0.8v0.8h-0.8zM140.1 272.1h0.8v0.8h-0.8zM151.4 267h0.8v0.8h-0.8zM136.2 276.3h0.8v0.8h-0.8zM157.2 265.8h0.8v0.8h-0.8zM125.8 278.8h0.8v0.8h-0.8zM127 274.9h0.8v0.8h-0.8zM126.8 272.1h0.8v0.8h-0.8zM118.7 278.2h0.8v0.8h-0.8zM146.1 268.3h0.8v0.8h-0.8zM134.2 271h0.8v0.8h-0.8zM157 265.3h0.8v0.8h-0.8zM154.2 265.1h0.8v0.8h-0.8zM125.7 276.3h0.8v0.8h-0.8zM147.6 273.3h0.8v0.8h-0.8zM151.6 271.9h0.8v0.8h-0.8zM117.5 267.7h0.8v0.8h-0.8zM139.2 268.9h0.8v0.8h-0.8zM130 278.2h0.8v0.8h-0.8zM148.1 277.8h0.8v0.8h-0.8zM149.8 275.5h0.8v0.8h-0.8zM125.2 278.1h0.8v0.8h-0.8zM124.4 272.8h0.8v0.8h-0.8zM121.1 276.1h0.8v0.8h-0.8zM148.1 264.3h0.8v0.8h-0.8zM154.8 265.2h0.8v0.8h-0.8zM144.9 266.1h0.8v0.8h-0.8zM146.2 277.5h0.8v0.8h-0.8zM128.2 277.5h0.8v0.8h-0.8zM127.1 272.1h0.8v0.8h-0.8zM126.5 278.4h0.8v0.8h-0.8zM126.6 275.7h0.8v0.8h-0.8zM128.3 274.9h0.8v0.8h-0.8zM136.4 274.8h0.8v0.8h-0.8z" fill="#000" fill-opacity="0.45"/>
<text x="83.6" y="212.4" font-size="10.6" font-weight="bold" text-anchor="start" fill="#000"  textLength="48.6" lengthAdjust="spacingAndGlyphs">Control Ig</text>
<rect x="195.3" y="196.2" width="94.3" height="94.2" fill="none" stroke="#7d7d7d" stroke-width="1.1"/>
<line x1="193.3" y1="290.4" x2="195.3" y2="290.4" stroke="#444" stroke-width="0.6"/>
<text x="191.9" y="292.2" font-size="4.8" font-weight="bold" text-anchor="end" fill="#111" >0</text>
<line x1="195.3" y1="290.4" x2="195.3" y2="292.4" stroke="#444" stroke-width="0.6"/>
<text x="195.3" y="298.6" font-size="4.8" font-weight="bold" text-anchor="middle" fill="#111" >0</text>
<line x1="194.2" y1="286.8" x2="195.3" y2="286.8" stroke="#666" stroke-width="0.45"/>
<line x1="198.8" y1="290.4" x2="198.8" y2="291.5" stroke="#666" stroke-width="0.45"/>
<line x1="194.2" y1="283.2" x2="195.3" y2="283.2" stroke="#666" stroke-width="0.45"/>
<line x1="202.4" y1="290.4" x2="202.4" y2="291.5" stroke="#666" stroke-width="0.45"/>
<line x1="194.2" y1="279.6" x2="195.3" y2="279.6" stroke="#666" stroke-width="0.45"/>
<line x1="205.9" y1="290.4" x2="205.9" y2="291.5" stroke="#666" stroke-width="0.45"/>
<line x1="194.2" y1="276" x2="195.3" y2="276" stroke="#666" stroke-width="0.45"/>
<line x1="209.5" y1="290.4" x2="209.5" y2="291.5" stroke="#666" stroke-width="0.45"/>
<line x1="193.3" y1="272.4" x2="195.3" y2="272.4" stroke="#444" stroke-width="0.6"/>
<text x="191.9" y="274.2" font-size="4.8" font-weight="bold" text-anchor="end" fill="#111" >50K</text>
<line x1="213" y1="290.4" x2="213" y2="292.4" stroke="#444" stroke-width="0.6"/>
<text x="213" y="298.6" font-size="4.8" font-weight="bold" text-anchor="middle" fill="#111" >50K</text>
<line x1="194.2" y1="268.8" x2="195.3" y2="268.8" stroke="#666" stroke-width="0.45"/>
<line x1="216.6" y1="290.4" x2="216.6" y2="291.5" stroke="#666" stroke-width="0.45"/>
<line x1="194.2" y1="265.2" x2="195.3" y2="265.2" stroke="#666" stroke-width="0.45"/>
<line x1="220.1" y1="290.4" x2="220.1" y2="291.5" stroke="#666" stroke-width="0.45"/>
<line x1="194.2" y1="261.6" x2="195.3" y2="261.6" stroke="#666" stroke-width="0.45"/>
<line x1="223.7" y1="290.4" x2="223.7" y2="291.5" stroke="#666" stroke-width="0.45"/>
<line x1="194.2" y1="257.9" x2="195.3" y2="257.9" stroke="#666" stroke-width="0.45"/>
<line x1="227.2" y1="290.4" x2="227.2" y2="291.5" stroke="#666" stroke-width="0.45"/>
<line x1="193.3" y1="254.3" x2="195.3" y2="254.3" stroke="#444" stroke-width="0.6"/>
<text x="191.9" y="256.1" font-size="4.8" font-weight="bold" text-anchor="end" fill="#111" >100K</text>
<line x1="230.8" y1="290.4" x2="230.8" y2="292.4" stroke="#444" stroke-width="0.6"/>
<text x="230.8" y="298.6" font-size="4.8" font-weight="bold" text-anchor="middle" fill="#111" >100K</text>
<line x1="194.2" y1="250.7" x2="195.3" y2="250.7" stroke="#666" stroke-width="0.45"/>
<line x1="234.3" y1="290.4" x2="234.3" y2="291.5" stroke="#666" stroke-width="0.45"/>
<line x1="194.2" y1="247.1" x2="195.3" y2="247.1" stroke="#666" stroke-width="0.45"/>
<line x1="237.8" y1="290.4" x2="237.8" y2="291.5" stroke="#666" stroke-width="0.45"/>
<line x1="194.2" y1="243.5" x2="195.3" y2="243.5" stroke="#666" stroke-width="0.45"/>
<line x1="241.4" y1="290.4" x2="241.4" y2="291.5" stroke="#666" stroke-width="0.45"/>
<line x1="194.2" y1="239.9" x2="195.3" y2="239.9" stroke="#666" stroke-width="0.45"/>
<line x1="244.9" y1="290.4" x2="244.9" y2="291.5" stroke="#666" stroke-width="0.45"/>
<line x1="193.3" y1="236.3" x2="195.3" y2="236.3" stroke="#444" stroke-width="0.6"/>
<text x="191.9" y="238.1" font-size="4.8" font-weight="bold" text-anchor="end" fill="#111" >150K</text>
<line x1="248.5" y1="290.4" x2="248.5" y2="292.4" stroke="#444" stroke-width="0.6"/>
<text x="248.5" y="298.6" font-size="4.8" font-weight="bold" text-anchor="middle" fill="#111" >150K</text>
<line x1="194.2" y1="232.7" x2="195.3" y2="232.7" stroke="#666" stroke-width="0.45"/>
<line x1="252" y1="290.4" x2="252" y2="291.5" stroke="#666" stroke-width="0.45"/>
<line x1="194.2" y1="229.1" x2="195.3" y2="229.1" stroke="#666" stroke-width="0.45"/>
<line x1="255.6" y1="290.4" x2="255.6" y2="291.5" stroke="#666" stroke-width="0.45"/>
<line x1="194.2" y1="225.5" x2="195.3" y2="225.5" stroke="#666" stroke-width="0.45"/>
<line x1="259.1" y1="290.4" x2="259.1" y2="291.5" stroke="#666" stroke-width="0.45"/>
<line x1="194.2" y1="221.9" x2="195.3" y2="221.9" stroke="#666" stroke-width="0.45"/>
<line x1="262.7" y1="290.4" x2="262.7" y2="291.5" stroke="#666" stroke-width="0.45"/>
<line x1="193.3" y1="218.3" x2="195.3" y2="218.3" stroke="#444" stroke-width="0.6"/>
<text x="191.9" y="220.1" font-size="4.8" font-weight="bold" text-anchor="end" fill="#111" >200K</text>
<line x1="266.2" y1="290.4" x2="266.2" y2="292.4" stroke="#444" stroke-width="0.6"/>
<text x="266.2" y="298.6" font-size="4.8" font-weight="bold" text-anchor="middle" fill="#111" >200K</text>
<line x1="194.2" y1="214.7" x2="195.3" y2="214.7" stroke="#666" stroke-width="0.45"/>
<line x1="269.8" y1="290.4" x2="269.8" y2="291.5" stroke="#666" stroke-width="0.45"/>
<line x1="194.2" y1="211.1" x2="195.3" y2="211.1" stroke="#666" stroke-width="0.45"/>
<line x1="273.3" y1="290.4" x2="273.3" y2="291.5" stroke="#666" stroke-width="0.45"/>
<line x1="194.2" y1="207.5" x2="195.3" y2="207.5" stroke="#666" stroke-width="0.45"/>
<line x1="276.9" y1="290.4" x2="276.9" y2="291.5" stroke="#666" stroke-width="0.45"/>
<line x1="194.2" y1="203.9" x2="195.3" y2="203.9" stroke="#666" stroke-width="0.45"/>
<line x1="280.4" y1="290.4" x2="280.4" y2="291.5" stroke="#666" stroke-width="0.45"/>
<line x1="193.3" y1="200.3" x2="195.3" y2="200.3" stroke="#444" stroke-width="0.6"/>
<text x="191.9" y="202.1" font-size="4.8" font-weight="bold" text-anchor="end" fill="#111" >250K</text>
<line x1="283.9" y1="290.4" x2="283.9" y2="292.4" stroke="#444" stroke-width="0.6"/>
<text x="283.9" y="298.6" font-size="4.8" font-weight="bold" text-anchor="middle" fill="#111" >250K</text>
<text x="240.6" y="303.6" font-size="4.8" font-weight="bold" text-anchor="middle" fill="#111" >FSC-A</text>
<polygon points="201.2,285.2 205.2,282.9 209.8,281.2 214.5,279.5 219.1,278.4 223.7,278.4 226.6,280 228.4,281.6 228.6,283 227.2,284.5 222.5,286.8 216.8,288 207.5,288.6 201.4,288.6" fill="#000"/>
<path d="M210 279.1h0.9v0.9h-0.9zM217.8 278.6h0.9v0.9h-0.9zM229.8 279.1h0.9v0.9h-0.9zM229.2 280.2h0.9v0.9h-0.9zM221.1 273.7h0.9v0.9h-0.9zM218.6 276.2h0.9v0.9h-0.9zM222.8 279.1h0.9v0.9h-0.9zM209.6 278.1h0.9v0.9h-0.9zM202.8 284.2h0.9v0.9h-0.9zM227 276.2h0.9v0.9h-0.9zM208.7 278.3h0.9v0.9h-0.9zM225.1 277.2h0.9v0.9h-0.9zM232.1 275.2h0.9v0.9h-0.9zM212.5 278.3h0.9v0.9h-0.9zM208.7 280.8h0.9v0.9h-0.9zM232 277.2h0.9v0.9h-0.9zM222.7 279.9h0.9v0.9h-0.9zM204.4 283.6h0.9v0.9h-0.9zM219.7 280.8h0.9v0.9h-0.9zM211.2 282.5h0.9v0.9h-0.9zM229.8 279.7h0.9v0.9h-0.9zM203.2 283.4h0.9v0.9h-0.9zM202 272.9h0.9v0.9h-0.9zM223.6 274.3h0.9v0.9h-0.9zM229.2 277.6h0.9v0.9h-0.9zM203.5 280.2h0.9v0.9h-0.9zM218.4 278h0.9v0.9h-0.9zM212.7 280.4h0.9v0.9h-0.9zM217.5 278.2h0.9v0.9h-0.9zM214.8 280.6h0.9v0.9h-0.9zM217 279.2h0.9v0.9h-0.9zM219.4 277.9h0.9v0.9h-0.9zM233.1 276.6h0.9v0.9h-0.9zM210.9 278.6h0.9v0.9h-0.9zM212.1 277.2h0.9v0.9h-0.9zM233.2 273.4h0.9v0.9h-0.9zM232.3 280.7h0.9v0.9h-0.9zM231.9 275.9h0.9v0.9h-0.9zM201.7 275.1h0.9v0.9h-0.9zM223.6 276.7h0.9v0.9h-0.9zM221.2 273.3h0.9v0.9h-0.9zM203.9 279.4h0.9v0.9h-0.9zM218.1 277.6h0.9v0.9h-0.9zM204.7 281.7h0.9v0.9h-0.9zM229.7 277.6h0.9v0.9h-0.9zM202.1 282.9h0.9v0.9h-0.9zM228.4 276.2h0.9v0.9h-0.9zM220.1 274.7h0.9v0.9h-0.9zM226 276.8h0.9v0.9h-0.9zM203.2 282.4h0.9v0.9h-0.9zM227.2 280.3h0.9v0.9h-0.9zM214.5 277.4h0.9v0.9h-0.9zM212.1 278.3h0.9v0.9h-0.9zM226.4 277.1h0.9v0.9h-0.9zM209.7 277.7h0.9v0.9h-0.9zM212.1 277.4h0.9v0.9h-0.9zM223.3 275.2h0.9v0.9h-0.9zM230.1 277.6h0.9v0.9h-0.9zM206.8 281.6h0.9v0.9h-0.9zM216.8 278.6h0.9v0.9h-0.9zM226.9 276.2h0.9v0.9h-0.9zM222.6 277.5h0.9v0.9h-0.9zM209.6 278.2h0.9v0.9h-0.9zM229.9 277.1h0.9v0.9h-0.9zM207.1 280.9h0.9v0.9h-0.9zM211.9 280.1h0.9v0.9h-0.9zM225 275.2h0.9v0.9h-0.9zM218.8 274.2h0.9v0.9h-0.9zM203.6 282.4h0.9v0.9h-0.9zM208.2 278.9h0.9v0.9h-0.9zM214.7 279.6h0.9v0.9h-0.9zM212.8 278.2h0.9v0.9h-0.9zM231.1 279.2h0.9v0.9h-0.9zM205.5 281.3h0.9v0.9h-0.9zM227.1 277.2h0.9v0.9h-0.9zM227.1 275.3h0.9v0.9h-0.9zM213.5 277.6h0.9v0.9h-0.9zM225.5 279.1h0.9v0.9h-0.9zM216.7 277.6h0.9v0.9h-0.9zM217.5 277h0.9v0.9h-0.9zM213.6 281.8h0.9v0.9h-0.9zM205.7 282.9h0.9v0.9h-0.9zM207.8 283.7h0.9v0.9h-0.9zM231.7 274.3h0.9v0.9h-0.9zM212.3 279.3h0.9v0.9h-0.9zM224.6 276.2h0.9v0.9h-0.9zM232.2 277.8h0.9v0.9h-0.9zM223.4 277.4h0.9v0.9h-0.9zM230.1 276.6h0.9v0.9h-0.9zM216 273.3h0.9v0.9h-0.9zM213.3 279.3h0.9v0.9h-0.9zM232 278.5h0.9v0.9h-0.9zM203.4 283h0.9v0.9h-0.9zM202.6 284.2h0.9v0.9h-0.9zM211.1 279.3h0.9v0.9h-0.9zM218.4 277.9h0.9v0.9h-0.9zM218.8 274.2h0.9v0.9h-0.9zM218.4 275.8h0.9v0.9h-0.9zM232.3 278.6h0.9v0.9h-0.9zM203.5 282.9h0.9v0.9h-0.9zM211.2 279.1h0.9v0.9h-0.9zM217.6 273.2h0.9v0.9h-0.9zM206.3 279.9h0.9v0.9h-0.9zM210.7 281.1h0.9v0.9h-0.9zM227.2 278.9h0.9v0.9h-0.9zM220.9 276.2h0.9v0.9h-0.9zM228.9 276h0.9v0.9h-0.9zM232.2 277.8h0.9v0.9h-0.9zM233.3 280.5h0.9v0.9h-0.9zM214.2 278.5h0.9v0.9h-0.9zM202.7 283.3h0.9v0.9h-0.9zM225.3 277.6h0.9v0.9h-0.9zM208 281.6h0.9v0.9h-0.9zM227.4 277.1h0.9v0.9h-0.9zM217.5 276.1h0.9v0.9h-0.9zM207 279.1h0.9v0.9h-0.9zM201.5 277.3h0.9v0.9h-0.9zM209.6 280.1h0.9v0.9h-0.9zM221.4 275h0.9v0.9h-0.9zM221.6 277.9h0.9v0.9h-0.9zM211.5 276.4h0.9v0.9h-0.9zM220.2 279.6h0.9v0.9h-0.9zM214.8 276h0.9v0.9h-0.9zM212 278h0.9v0.9h-0.9zM231.2 277.8h0.9v0.9h-0.9zM229.1 281.4h0.9v0.9h-0.9zM230.1 278.4h0.9v0.9h-0.9zM233.5 279.3h0.9v0.9h-0.9zM210.5 280.5h0.9v0.9h-0.9zM208.8 282.5h0.9v0.9h-0.9zM220.3 279.1h0.9v0.9h-0.9zM210.4 282.9h0.9v0.9h-0.9zM204.2 281.4h0.9v0.9h-0.9zM219.5 275.3h0.9v0.9h-0.9zM217.4 279.2h0.9v0.9h-0.9zM213.5 277.2h0.9v0.9h-0.9zM201.1 276.1h0.9v0.9h-0.9zM219.9 276.8h0.9v0.9h-0.9zM221.9 275.6h0.9v0.9h-0.9zM217.4 277.5h0.9v0.9h-0.9zM216.9 274.4h0.9v0.9h-0.9zM210.2 275.6h0.9v0.9h-0.9zM215.6 280.5h0.9v0.9h-0.9zM208.7 281.6h0.9v0.9h-0.9zM228.4 277.5h0.9v0.9h-0.9zM230.8 276h0.9v0.9h-0.9zM217.6 275.2h0.9v0.9h-0.9zM232.2 278.5h0.9v0.9h-0.9zM217.2 275.9h0.9v0.9h-0.9zM228.8 277.3h0.9v0.9h-0.9zM217.6 276.6h0.9v0.9h-0.9zM208.1 281.2h0.9v0.9h-0.9zM228.5 278.7h0.9v0.9h-0.9zM231.3 272.7h0.9v0.9h-0.9zM223.6 277.3h0.9v0.9h-0.9zM227.7 274.3h0.9v0.9h-0.9zM227.4 278.4h0.9v0.9h-0.9zM211 281.9h0.9v0.9h-0.9zM209.1 280.2h0.9v0.9h-0.9zM217.9 277h0.9v0.9h-0.9zM212.3 279.1h0.9v0.9h-0.9zM231.1 275h0.9v0.9h-0.9zM231.8 277.1h0.9v0.9h-0.9zM223 275.9h0.9v0.9h-0.9zM204.6 285.4h0.9v0.9h-0.9zM211.3 278.4h0.9v0.9h-0.9zM207.1 279.6h0.9v0.9h-0.9zM233.5 274.7h0.9v0.9h-0.9zM221.6 278.4h0.9v0.9h-0.9zM202.9 284.6h0.9v0.9h-0.9zM229.6 277.6h0.9v0.9h-0.9zM229.8 274.1h0.9v0.9h-0.9zM219.8 279.2h0.9v0.9h-0.9zM217.2 276.5h0.9v0.9h-0.9zM213.7 277.9h0.9v0.9h-0.9zM206.3 281.4h0.9v0.9h-0.9zM227.3 277.3h0.9v0.9h-0.9zM226.6 279.4h0.9v0.9h-0.9zM223.9 275h0.9v0.9h-0.9zM210 279.2h0.9v0.9h-0.9zM207.2 279h0.9v0.9h-0.9zM232.1 275.3h0.9v0.9h-0.9zM211.9 282.1h0.9v0.9h-0.9zM210.6 277.4h0.9v0.9h-0.9zM232.4 274.1h0.9v0.9h-0.9zM226.5 273.7h0.9v0.9h-0.9zM212 278.1h0.9v0.9h-0.9zM217.1 279.5h0.9v0.9h-0.9zM202.2 284.4h0.9v0.9h-0.9zM216.6 275.8h0.9v0.9h-0.9zM225.6 276.7h0.9v0.9h-0.9zM220.2 277.9h0.9v0.9h-0.9zM209 279.5h0.9v0.9h-0.9zM202.7 283.3h0.9v0.9h-0.9zM212.7 274h0.9v0.9h-0.9zM222.1 275.6h0.9v0.9h-0.9zM214.7 276.8h0.9v0.9h-0.9zM216.6 278.2h0.9v0.9h-0.9zM232.6 278.9h0.9v0.9h-0.9zM223.6 277.8h0.9v0.9h-0.9zM226.2 274.4h0.9v0.9h-0.9zM232 276.6h0.9v0.9h-0.9zM230.8 277.3h0.9v0.9h-0.9zM233.9 279.7h0.9v0.9h-0.9zM218.4 278.2h0.9v0.9h-0.9zM202.9 285.5h0.9v0.9h-0.9zM206 279.9h0.9v0.9h-0.9zM224.7 276.2h0.9v0.9h-0.9zM225 275.4h0.9v0.9h-0.9zM222.4 279.1h0.9v0.9h-0.9zM224.3 274.7h0.9v0.9h-0.9zM204.5 282.4h0.9v0.9h-0.9zM216.7 281.1h0.9v0.9h-0.9zM202.9 281.6h0.9v0.9h-0.9zM203.3 282.1h0.9v0.9h-0.9zM215.4 280.5h0.9v0.9h-0.9zM205.2 279.5h0.9v0.9h-0.9zM225.6 277.8h0.9v0.9h-0.9zM214.3 276.4h0.9v0.9h-0.9zM221.3 274.3h0.9v0.9h-0.9zM202.5 282.5h0.9v0.9h-0.9zM202.8 281.7h0.9v0.9h-0.9zM216.6 278.2h0.9v0.9h-0.9zM213.9 278.2h0.9v0.9h-0.9zM216.5 281h0.9v0.9h-0.9zM229.1 279.9h0.9v0.9h-0.9zM217.1 276.1h0.9v0.9h-0.9zM233.5 276.7h0.9v0.9h-0.9zM205 281.2h0.9v0.9h-0.9zM229.6 278.4h0.9v0.9h-0.9zM217.8 275.7h0.9v0.9h-0.9zM230.3 278.3h0.9v0.9h-0.9zM209.5 280.4h0.9v0.9h-0.9zM215.8 274.9h0.9v0.9h-0.9zM213.1 276.4h0.9v0.9h-0.9zM211.4 279.5h0.9v0.9h-0.9zM221.6 275.1h0.9v0.9h-0.9zM226.5 277.7h0.9v0.9h-0.9zM216 274h0.9v0.9h-0.9zM216 278.2h0.9v0.9h-0.9zM213.4 282.1h0.9v0.9h-0.9zM226.9 273.9h0.9v0.9h-0.9zM214.2 276.6h0.9v0.9h-0.9zM210.8 276.4h0.9v0.9h-0.9zM224.9 279.1h0.9v0.9h-0.9zM223.1 275.6h0.9v0.9h-0.9zM215.4 277h0.9v0.9h-0.9zM226.4 275.8h0.9v0.9h-0.9zM218.8 278.6h0.9v0.9h-0.9zM224.5 276.4h0.9v0.9h-0.9zM201.6 274.8h0.9v0.9h-0.9zM209.6 281.1h0.9v0.9h-0.9zM221.2 276.8h0.9v0.9h-0.9zM233.8 279.3h0.9v0.9h-0.9zM207.5 281.1h0.9v0.9h-0.9zM220.2 276.4h0.9v0.9h-0.9zM228.1 278h0.9v0.9h-0.9zM220.5 275.1h0.9v0.9h-0.9zM224.5 276.8h0.9v0.9h-0.9zM220.1 273.7h0.9v0.9h-0.9zM209.3 279.1h0.9v0.9h-0.9zM219 274.7h0.9v0.9h-0.9zM233.6 279.6h0.9v0.9h-0.9zM211.7 281h0.9v0.9h-0.9zM225 278h0.9v0.9h-0.9zM219.7 276.4h0.9v0.9h-0.9zM218.4 276h0.9v0.9h-0.9zM221.6 276.4h0.9v0.9h-0.9zM230.5 276.5h0.9v0.9h-0.9zM227.6 275.7h0.9v0.9h-0.9zM214.9 279.4h0.9v0.9h-0.9zM216.2 279.5h0.9v0.9h-0.9zM218.5 279.4h0.9v0.9h-0.9zM232.5 277.4h0.9v0.9h-0.9zM212.6 278.4h0.9v0.9h-0.9zM210.9 278.3h0.9v0.9h-0.9zM223.8 275.3h0.9v0.9h-0.9zM213.5 275h0.9v0.9h-0.9zM210 278h0.9v0.9h-0.9zM201.8 279.2h0.9v0.9h-0.9zM213.4 277.6h0.9v0.9h-0.9zM211.3 278h0.9v0.9h-0.9zM229.8 278.5h0.9v0.9h-0.9zM206.9 280.3h0.9v0.9h-0.9zM204.9 284.4h0.9v0.9h-0.9zM225.4 278.3h0.9v0.9h-0.9zM209.7 276.8h0.9v0.9h-0.9zM201.9 277.7h0.9v0.9h-0.9zM228 277.8h0.9v0.9h-0.9zM224.2 275.6h0.9v0.9h-0.9zM224.1 274.6h0.9v0.9h-0.9zM208.2 283.4h0.9v0.9h-0.9zM216.6 276.7h0.9v0.9h-0.9zM227.8 278.8h0.9v0.9h-0.9zM219.8 272.7h0.9v0.9h-0.9zM208.4 276.8h0.9v0.9h-0.9zM208.4 279.4h0.9v0.9h-0.9zM232.8 276.8h0.9v0.9h-0.9zM212.3 276.7h0.9v0.9h-0.9zM228.3 277.8h0.9v0.9h-0.9zM231.2 276.9h0.9v0.9h-0.9zM212.7 277.4h0.9v0.9h-0.9zM224.3 277.4h0.9v0.9h-0.9zM229.8 280.9h0.9v0.9h-0.9zM208.5 279.2h0.9v0.9h-0.9zM224.7 277.6h0.9v0.9h-0.9zM202.6 282.5h0.9v0.9h-0.9zM228.8 276.5h0.9v0.9h-0.9zM218.9 276.3h0.9v0.9h-0.9zM202.5 282.4h0.9v0.9h-0.9zM212.7 280.8h0.9v0.9h-0.9zM229.5 277h0.9v0.9h-0.9zM203.1 282.8h0.9v0.9h-0.9zM224 276.8h0.9v0.9h-0.9zM206.8 280.5h0.9v0.9h-0.9zM224 279.2h0.9v0.9h-0.9zM211.6 277.2h0.9v0.9h-0.9zM219.5 277.1h0.9v0.9h-0.9zM212.7 277.5h0.9v0.9h-0.9zM210.6 280.2h0.9v0.9h-0.9zM209.6 281.1h0.9v0.9h-0.9zM220.5 276.8h0.9v0.9h-0.9zM209.9 282.1h0.9v0.9h-0.9zM216.5 279.8h0.9v0.9h-0.9zM217.9 275.8h0.9v0.9h-0.9zM225.9 280.2h0.9v0.9h-0.9zM221.5 274.9h0.9v0.9h-0.9zM217.5 275h0.9v0.9h-0.9zM214.6 276.3h0.9v0.9h-0.9zM216.5 278.9h0.9v0.9h-0.9zM218.5 274h0.9v0.9h-0.9zM230.5 276.7h0.9v0.9h-0.9zM208.4 281.6h0.9v0.9h-0.9zM202.1 283.2h0.9v0.9h-0.9zM227.3 275.9h0.9v0.9h-0.9zM207.3 279.6h0.9v0.9h-0.9zM229.7 278.6h0.9v0.9h-0.9zM223.8 274.2h0.9v0.9h-0.9zM225.6 275h0.9v0.9h-0.9zM219.2 277.4h0.9v0.9h-0.9zM230.1 281.3h0.9v0.9h-0.9zM228.6 276.9h0.9v0.9h-0.9zM203.5 282.4h0.9v0.9h-0.9zM218.9 281.8h0.9v0.9h-0.9zM218 275.9h0.9v0.9h-0.9zM218.1 280.5h0.9v0.9h-0.9zM233.7 282.6h0.9v0.9h-0.9zM201.4 280.1h0.9v0.9h-0.9zM205.9 279.3h0.9v0.9h-0.9zM204.7 283.5h0.9v0.9h-0.9zM219.6 278.6h0.9v0.9h-0.9zM226.2 276.1h0.9v0.9h-0.9zM220.5 275.7h0.9v0.9h-0.9zM216.3 277h0.9v0.9h-0.9zM230.7 276.8h0.9v0.9h-0.9zM215.7 276.6h0.9v0.9h-0.9zM218.9 275.7h0.9v0.9h-0.9zM221.8 278.4h0.9v0.9h-0.9zM201.6 278h0.9v0.9h-0.9zM208.1 282.9h0.9v0.9h-0.9zM203.4 282.5h0.9v0.9h-0.9zM232.6 275.9h0.9v0.9h-0.9zM219.4 278.9h0.9v0.9h-0.9zM209.7 281.1h0.9v0.9h-0.9zM227.9 276.5h0.9v0.9h-0.9zM202.9 279.6h0.9v0.9h-0.9zM202.1 283.2h0.9v0.9h-0.9zM207.7 279.5h0.9v0.9h-0.9zM202 278.6h0.9v0.9h-0.9zM232.6 279.2h0.9v0.9h-0.9zM211.6 278.5h0.9v0.9h-0.9zM207.1 284.1h0.9v0.9h-0.9zM222 273.2h0.9v0.9h-0.9zM202.4 280h0.9v0.9h-0.9zM219.6 274.3h0.9v0.9h-0.9zM209.3 282h0.9v0.9h-0.9zM224.6 277.4h0.9v0.9h-0.9zM233 279.4h0.9v0.9h-0.9zM208.9 279.2h0.9v0.9h-0.9zM223.3 280.4h0.9v0.9h-0.9zM203.2 283h0.9v0.9h-0.9zM210.6 280.4h0.9v0.9h-0.9zM228.9 275.6h0.9v0.9h-0.9zM223.1 271.6h0.9v0.9h-0.9zM221.7 274.2h0.9v0.9h-0.9zM217.3 279.3h0.9v0.9h-0.9zM202.9 280.8h0.9v0.9h-0.9zM218.5 277.2h0.9v0.9h-0.9zM202.6 287.8h0.9v0.9h-0.9zM213.3 279.1h0.9v0.9h-0.9zM211.9 280h0.9v0.9h-0.9zM231.2 279.3h0.9v0.9h-0.9zM207 278.7h0.9v0.9h-0.9zM226.3 276.8h0.9v0.9h-0.9zM219.6 276.9h0.9v0.9h-0.9zM224.9 277.8h0.9v0.9h-0.9zM203.6 282.6h0.9v0.9h-0.9zM207.3 280.3h0.9v0.9h-0.9zM216.4 278.9h0.9v0.9h-0.9zM225.6 274.7h0.9v0.9h-0.9zM226.1 276.7h0.9v0.9h-0.9zM228.2 276.5h0.9v0.9h-0.9zM205.9 281.5h0.9v0.9h-0.9zM201.9 277.9h0.9v0.9h-0.9zM229.9 276.7h0.9v0.9h-0.9zM202.5 283.3h0.9v0.9h-0.9zM228.9 273.9h0.9v0.9h-0.9zM202.2 280.5h0.9v0.9h-0.9zM204.7 281.5h0.9v0.9h-0.9zM204.7 282.9h0.9v0.9h-0.9zM207.6 279.8h0.9v0.9h-0.9zM206.6 280.1h0.9v0.9h-0.9zM218.7 276.3h0.9v0.9h-0.9zM219.7 277.5h0.9v0.9h-0.9zM217.8 275.7h0.9v0.9h-0.9zM202.3 284.2h0.9v0.9h-0.9zM221.3 277h0.9v0.9h-0.9zM201.3 279h0.9v0.9h-0.9zM230.3 275.8h0.9v0.9h-0.9zM218.9 276h0.9v0.9h-0.9z" fill="#000" fill-opacity="0.65"/>
<path d="M282.5 273.4h0.8v0.8h-0.8zM269.1 275.9h0.8v0.8h-0.8zM249.6 273.2h0.8v0.8h-0.8zM230.4 272.2h0.8v0.8h-0.8zM244.5 274.8h0.8v0.8h-0.8zM273.5 279.8h0.8v0.8h-0.8zM268.6 275.2h0.8v0.8h-0.8zM250.8 274.2h0.8v0.8h-0.8zM277.5 270.9h0.8v0.8h-0.8zM284.8 266.5h0.8v0.8h-0.8zM270.9 275.1h0.8v0.8h-0.8zM263.1 269.9h0.8v0.8h-0.8zM283.6 275.4h0.8v0.8h-0.8zM279.6 265.9h0.8v0.8h-0.8zM285.9 273.5h0.8v0.8h-0.8zM283.7 262.5h0.8v0.8h-0.8zM236.3 274.3h0.8v0.8h-0.8zM235.6 281.1h0.8v0.8h-0.8zM273.3 278.2h0.8v0.8h-0.8zM244.2 278.8h0.8v0.8h-0.8zM246.7 274.1h0.8v0.8h-0.8zM254 273.1h0.8v0.8h-0.8zM277.7 274.8h0.8v0.8h-0.8zM249.2 275.5h0.8v0.8h-0.8zM268.2 276h0.8v0.8h-0.8zM239.5 284.6h0.8v0.8h-0.8zM260.3 273.7h0.8v0.8h-0.8zM228.1 280.1h0.8v0.8h-0.8zM228.1 278.7h0.8v0.8h-0.8zM285.5 273.1h0.8v0.8h-0.8zM265 280.1h0.8v0.8h-0.8zM241.5 279.7h0.8v0.8h-0.8zM255.9 273.1h0.8v0.8h-0.8zM282.2 258.9h0.8v0.8h-0.8zM252.4 273.4h0.8v0.8h-0.8zM246.1 280.1h0.8v0.8h-0.8zM271 264.3h0.8v0.8h-0.8zM236.8 279.5h0.8v0.8h-0.8zM273.4 274.8h0.8v0.8h-0.8zM263.8 272.5h0.8v0.8h-0.8zM237.4 281.9h0.8v0.8h-0.8zM238.6 278.7h0.8v0.8h-0.8zM270.4 265.1h0.8v0.8h-0.8zM284.1 265.6h0.8v0.8h-0.8zM231.4 280.1h0.8v0.8h-0.8zM254.6 275.5h0.8v0.8h-0.8zM275.8 268.2h0.8v0.8h-0.8zM277.7 264.4h0.8v0.8h-0.8zM249.6 280.3h0.8v0.8h-0.8zM229.5 282.9h0.8v0.8h-0.8zM241.3 279.6h0.8v0.8h-0.8zM231.7 279.6h0.8v0.8h-0.8zM258.8 278.4h0.8v0.8h-0.8zM275.8 276.1h0.8v0.8h-0.8zM248 280.5h0.8v0.8h-0.8zM270.3 277.2h0.8v0.8h-0.8zM279.3 263.5h0.8v0.8h-0.8zM278.1 268.1h0.8v0.8h-0.8zM267.3 276.6h0.8v0.8h-0.8zM272.9 270.8h0.8v0.8h-0.8zM264.7 272.3h0.8v0.8h-0.8zM255.6 274.8h0.8v0.8h-0.8zM243.3 273h0.8v0.8h-0.8zM257.6 271h0.8v0.8h-0.8zM231.4 282.6h0.8v0.8h-0.8zM267.6 277.5h0.8v0.8h-0.8zM285.5 270.4h0.8v0.8h-0.8zM254.4 271.3h0.8v0.8h-0.8zM257.3 275.9h0.8v0.8h-0.8zM281.4 264.6h0.8v0.8h-0.8zM256.1 270.4h0.8v0.8h-0.8zM248.7 278.7h0.8v0.8h-0.8zM286 274.5h0.8v0.8h-0.8zM232.6 280.1h0.8v0.8h-0.8zM267.3 274.2h0.8v0.8h-0.8zM252.6 277.2h0.8v0.8h-0.8zM262.9 273.8h0.8v0.8h-0.8zM245.1 272.1h0.8v0.8h-0.8zM249.3 278h0.8v0.8h-0.8zM228.7 278.3h0.8v0.8h-0.8zM279.4 267.4h0.8v0.8h-0.8zM235.9 278.6h0.8v0.8h-0.8zM279.6 270.2h0.8v0.8h-0.8zM267.2 270.8h0.8v0.8h-0.8zM240.4 272.4h0.8v0.8h-0.8zM231 281h0.8v0.8h-0.8zM282.3 268.1h0.8v0.8h-0.8zM273.3 273.9h0.8v0.8h-0.8zM234.3 283.9h0.8v0.8h-0.8zM255.3 276.2h0.8v0.8h-0.8zM280.2 271h0.8v0.8h-0.8zM230.6 277.2h0.8v0.8h-0.8zM263 269.4h0.8v0.8h-0.8zM281.2 270.8h0.8v0.8h-0.8zM240.1 276.6h0.8v0.8h-0.8zM281.6 268.1h0.8v0.8h-0.8zM283 265.9h0.8v0.8h-0.8zM270 269h0.8v0.8h-0.8zM280.4 270.5h0.8v0.8h-0.8zM257.2 273.1h0.8v0.8h-0.8zM236.1 269.6h0.8v0.8h-0.8zM278.2 266.7h0.8v0.8h-0.8zM242.4 273.7h0.8v0.8h-0.8zM237.8 276.9h0.8v0.8h-0.8zM271.1 272.1h0.8v0.8h-0.8zM252.4 271.3h0.8v0.8h-0.8zM268.4 271.6h0.8v0.8h-0.8zM234.9 274.5h0.8v0.8h-0.8zM233.5 282.1h0.8v0.8h-0.8zM256.8 281.9h0.8v0.8h-0.8zM265.4 269.8h0.8v0.8h-0.8zM238.2 280.6h0.8v0.8h-0.8zM284.5 266.9h0.8v0.8h-0.8zM268.8 270.7h0.8v0.8h-0.8zM262.7 267.2h0.8v0.8h-0.8zM263.3 267.9h0.8v0.8h-0.8zM278.8 275.8h0.8v0.8h-0.8zM265.6 271.9h0.8v0.8h-0.8zM249.7 272.2h0.8v0.8h-0.8zM265.5 275.4h0.8v0.8h-0.8zM248.4 271h0.8v0.8h-0.8zM274.4 279.4h0.8v0.8h-0.8zM267.2 275.3h0.8v0.8h-0.8zM265.3 268.9h0.8v0.8h-0.8zM242.6 276.3h0.8v0.8h-0.8zM274.3 273.4h0.8v0.8h-0.8zM281.4 268.1h0.8v0.8h-0.8zM234.8 282h0.8v0.8h-0.8zM236.2 273.2h0.8v0.8h-0.8zM232.9 273.2h0.8v0.8h-0.8zM242.8 277.1h0.8v0.8h-0.8zM278.9 266.5h0.8v0.8h-0.8zM248.5 273.1h0.8v0.8h-0.8zM244.9 277h0.8v0.8h-0.8zM252.6 273.9h0.8v0.8h-0.8zM229.8 285.2h0.8v0.8h-0.8zM265 274.4h0.8v0.8h-0.8zM239.1 274.5h0.8v0.8h-0.8zM235 284.3h0.8v0.8h-0.8zM263 277.3h0.8v0.8h-0.8zM228.9 275.4h0.8v0.8h-0.8zM246.5 277.9h0.8v0.8h-0.8zM230 276.7h0.8v0.8h-0.8zM284.4 271.8h0.8v0.8h-0.8zM248.9 283.4h0.8v0.8h-0.8zM261.3 269.2h0.8v0.8h-0.8zM235.3 279.1h0.8v0.8h-0.8zM260.3 271.9h0.8v0.8h-0.8zM233.6 282h0.8v0.8h-0.8zM237.1 280.3h0.8v0.8h-0.8zM285.5 258.4h0.8v0.8h-0.8zM283.5 263.8h0.8v0.8h-0.8zM272 268.1h0.8v0.8h-0.8zM273.1 266.8h0.8v0.8h-0.8zM266.8 276h0.8v0.8h-0.8zM252 279.8h0.8v0.8h-0.8zM257.9 272.6h0.8v0.8h-0.8zM261 266.7h0.8v0.8h-0.8zM273.8 272.4h0.8v0.8h-0.8zM236.4 276.8h0.8v0.8h-0.8zM230.7 284.2h0.8v0.8h-0.8zM246 285.1h0.8v0.8h-0.8zM253.5 269.5h0.8v0.8h-0.8zM244.2 277.8h0.8v0.8h-0.8zM273.2 266.5h0.8v0.8h-0.8zM274.6 280h0.8v0.8h-0.8zM228.1 278.5h0.8v0.8h-0.8zM279.3 269.6h0.8v0.8h-0.8zM232 278.5h0.8v0.8h-0.8zM262.3 281.6h0.8v0.8h-0.8z" fill="#000" fill-opacity="0.32"/>
<text x="219.7" y="212.4" font-size="10.6" font-weight="bold" text-anchor="start" fill="#000"  textLength="42.4" lengthAdjust="spacingAndGlyphs">VISTA Ig</text>
<line x1="43.4" y1="264.6" x2="43.4" y2="212.5" stroke="#000" stroke-width="2.0"/>
<polyline points="46.8,218.5 43.4,212.5 40,218.5" fill="none" stroke="#000" stroke-width="2.0" stroke-linejoin="miter" stroke-linecap="butt"/>
<text x="48.2" y="289.6" font-size="11.8" font-weight="normal" text-anchor="start" fill="#000" transform="rotate(-90 48.2 289.6)" textLength="19.0" lengthAdjust="spacingAndGlyphs" stroke="#000" stroke-width="0.3">SSC</text>
<text x="78.5" y="319" font-size="11.8" font-weight="normal" text-anchor="start" fill="#000"  textLength="18.6" lengthAdjust="spacingAndGlyphs" stroke="#000" stroke-width="0.3">FSC</text>
<line x1="102" y1="314.6" x2="242.6" y2="314.6" stroke="#000" stroke-width="2.0"/>
<polyline points="236.6,318 242.6,314.6 236.6,311.2" fill="none" stroke="#000" stroke-width="2.0" stroke-linejoin="miter" stroke-linecap="butt"/>
<line x1="89.8" y1="382.6" x2="89.8" y2="409.1" stroke="#000" stroke-width="1.5"/>
<line x1="85.8" y1="382.6" x2="93.8" y2="382.6" stroke="#000" stroke-width="1.6"/>
<rect x="82.3" y="409.1" width="15" height="96.1" fill="#000"/>
<line x1="89.8" y1="505.2" x2="89.8" y2="509.5" stroke="#000" stroke-width="1.6"/>
<line x1="109.5" y1="476.3" x2="109.5" y2="486.3" stroke="#000" stroke-width="1.5"/>
<line x1="105.5" y1="476.3" x2="113.5" y2="476.3" stroke="#000" stroke-width="1.6"/>
<rect x="102" y="486.3" width="15" height="18.9" fill="#000"/>
<line x1="109.5" y1="505.2" x2="109.5" y2="509.5" stroke="#000" stroke-width="1.6"/>
<line x1="129.2" y1="473.7" x2="129.2" y2="487.7" stroke="#000" stroke-width="1.5"/>
<line x1="125.2" y1="473.7" x2="133.2" y2="473.7" stroke="#000" stroke-width="1.6"/>
<rect x="121.7" y="487.7" width="15" height="17.5" fill="#000"/>
<line x1="129.2" y1="505.2" x2="129.2" y2="509.5" stroke="#000" stroke-width="1.6"/>
<line x1="148.9" y1="479.7" x2="148.9" y2="486.3" stroke="#000" stroke-width="1.5"/>
<line x1="144.9" y1="479.7" x2="152.9" y2="479.7" stroke="#000" stroke-width="1.6"/>
<rect x="141.4" y="486.3" width="15" height="18.9" fill="#000"/>
<line x1="148.9" y1="505.2" x2="148.9" y2="509.5" stroke="#000" stroke-width="1.6"/>
<polyline points="80,366.8 80,505.2 158.2,505.2" fill="none" stroke="#000" stroke-width="1.9" stroke-linejoin="miter"/>
<line x1="75.2" y1="505.2" x2="80" y2="505.2" stroke="#000" stroke-width="1.6"/>
<text x="74.4" y="509.5" font-size="10.2" font-weight="normal" text-anchor="end" fill="#000"  stroke="#000" stroke-width="0.3">0</text>
<line x1="75.2" y1="470.8" x2="80" y2="470.8" stroke="#000" stroke-width="1.6"/>
<text x="74.4" y="475.1" font-size="10.2" font-weight="normal" text-anchor="end" fill="#000"  stroke="#000" stroke-width="0.3">200</text>
<line x1="75.2" y1="436.4" x2="80" y2="436.4" stroke="#000" stroke-width="1.6"/>
<text x="74.4" y="440.7" font-size="10.2" font-weight="normal" text-anchor="end" fill="#000"  stroke="#000" stroke-width="0.3">400</text>
<line x1="75.2" y1="402" x2="80" y2="402" stroke="#000" stroke-width="1.6"/>
<text x="74.4" y="406.3" font-size="10.2" font-weight="normal" text-anchor="end" fill="#000"  stroke="#000" stroke-width="0.3">600</text>
<line x1="75.2" y1="367.6" x2="80" y2="367.6" stroke="#000" stroke-width="1.6"/>
<text x="74.4" y="371.9" font-size="10.2" font-weight="normal" text-anchor="end" fill="#000"  stroke="#000" stroke-width="0.3">800</text>
<text x="92.3" y="517.2" font-size="10.2" font-weight="normal" text-anchor="end" fill="#000" transform="rotate(-45 92.3 517.2)" stroke="#000" stroke-width="0.3">0</text>
<text x="112" y="517.2" font-size="10.2" font-weight="normal" text-anchor="end" fill="#000" transform="rotate(-45 112 517.2)" stroke="#000" stroke-width="0.3">2.5</text>
<text x="131.7" y="517.2" font-size="10.2" font-weight="normal" text-anchor="end" fill="#000" transform="rotate(-45 131.7 517.2)" stroke="#000" stroke-width="0.3">5</text>
<text x="151.4" y="517.2" font-size="10.2" font-weight="normal" text-anchor="end" fill="#000" transform="rotate(-45 151.4 517.2)" stroke="#000" stroke-width="0.3">10</text>
<polygon points="108.3,460.9 109,462.4 110.5,462.6 109.4,463.7 109.7,465.2 108.3,464.4 106.9,465.2 107.2,463.7 106.1,462.6 107.6,462.4" fill="#000"/>
<polygon points="129.7,459.1 130.4,460.6 131.9,460.8 130.8,461.9 131.1,463.4 129.7,462.6 128.3,463.4 128.6,461.9 127.5,460.8 129,460.6" fill="#000"/>
<polygon points="149.4,462.6 150.1,464.1 151.6,464.3 150.5,465.4 150.8,466.9 149.4,466.1 148,466.9 148.3,465.4 147.2,464.3 148.7,464.1" fill="#000"/>
<text x="122.2" y="356.6" font-size="11.3" font-weight="bold" text-anchor="middle" fill="#000"  textLength="26.6" lengthAdjust="spacingAndGlyphs">IL-10</text>
<line x1="187.2" y1="396.2" x2="187.2" y2="400.6" stroke="#000" stroke-width="1.5"/>
<line x1="183.2" y1="396.2" x2="191.2" y2="396.2" stroke="#000" stroke-width="1.6"/>
<rect x="179.7" y="400.6" width="15" height="104.6" fill="#000"/>
<line x1="187.2" y1="505.2" x2="187.2" y2="509.5" stroke="#000" stroke-width="1.6"/>
<line x1="206.9" y1="417.5" x2="206.9" y2="418.9" stroke="#000" stroke-width="1.5"/>
<line x1="202.9" y1="417.5" x2="210.9" y2="417.5" stroke="#000" stroke-width="1.6"/>
<rect x="199.4" y="418.9" width="15" height="86.3" fill="#000"/>
<line x1="206.9" y1="505.2" x2="206.9" y2="509.5" stroke="#000" stroke-width="1.6"/>
<line x1="226.6" y1="428.1" x2="226.6" y2="430.2" stroke="#000" stroke-width="1.5"/>
<line x1="222.6" y1="428.1" x2="230.6" y2="428.1" stroke="#000" stroke-width="1.6"/>
<rect x="219.1" y="430.2" width="15" height="75" fill="#000"/>
<line x1="226.6" y1="505.2" x2="226.6" y2="509.5" stroke="#000" stroke-width="1.6"/>
<rect x="238.8" y="445" width="15" height="60.2" fill="#000"/>
<line x1="246.3" y1="505.2" x2="246.3" y2="509.5" stroke="#000" stroke-width="1.6"/>
<polyline points="177.2,366.8 177.2,505.2 255.6,505.2" fill="none" stroke="#000" stroke-width="1.9" stroke-linejoin="miter"/>
<line x1="172.4" y1="505.2" x2="177.2" y2="505.2" stroke="#000" stroke-width="1.6"/>
<text x="171.6" y="509.5" font-size="10.2" font-weight="normal" text-anchor="end" fill="#000"  stroke="#000" stroke-width="0.3">0</text>
<line x1="172.4" y1="470.8" x2="177.2" y2="470.8" stroke="#000" stroke-width="1.6"/>
<text x="171.6" y="475.1" font-size="10.2" font-weight="normal" text-anchor="end" fill="#000"  stroke="#000" stroke-width="0.3">10</text>
<line x1="172.4" y1="436.4" x2="177.2" y2="436.4" stroke="#000" stroke-width="1.6"/>
<text x="171.6" y="440.7" font-size="10.2" font-weight="normal" text-anchor="end" fill="#000"  stroke="#000" stroke-width="0.3">20</text>
<line x1="172.4" y1="402" x2="177.2" y2="402" stroke="#000" stroke-width="1.6"/>
<text x="171.6" y="406.3" font-size="10.2" font-weight="normal" text-anchor="end" fill="#000"  stroke="#000" stroke-width="0.3">30</text>
<line x1="172.4" y1="367.6" x2="177.2" y2="367.6" stroke="#000" stroke-width="1.6"/>
<text x="171.6" y="371.9" font-size="10.2" font-weight="normal" text-anchor="end" fill="#000"  stroke="#000" stroke-width="0.3">40</text>
<text x="189.7" y="517.2" font-size="10.2" font-weight="normal" text-anchor="end" fill="#000" transform="rotate(-45 189.7 517.2)" stroke="#000" stroke-width="0.3">0</text>
<text x="209.4" y="517.2" font-size="10.2" font-weight="normal" text-anchor="end" fill="#000" transform="rotate(-45 209.4 517.2)" stroke="#000" stroke-width="0.3">2.5</text>
<text x="229.1" y="517.2" font-size="10.2" font-weight="normal" text-anchor="end" fill="#000" transform="rotate(-45 229.1 517.2)" stroke="#000" stroke-width="0.3">5</text>
<text x="248.8" y="517.2" font-size="10.2" font-weight="normal" text-anchor="end" fill="#000" transform="rotate(-45 248.8 517.2)" stroke="#000" stroke-width="0.3">10</text>
<text x="220.5" y="391.3" font-size="10.3" font-weight="bold" text-anchor="middle" fill="#000" >n.s.</text>
<text x="218.1" y="356.6" font-size="11.3" font-weight="bold" text-anchor="middle" fill="#000"  textLength="26.8" lengthAdjust="spacingAndGlyphs">IL-17</text>
<line x1="286.3" y1="386.9" x2="286.3" y2="407" stroke="#000" stroke-width="1.5"/>
<line x1="282.3" y1="386.9" x2="290.3" y2="386.9" stroke="#000" stroke-width="1.6"/>
<rect x="278.8" y="407" width="15" height="98.2" fill="#000"/>
<line x1="286.3" y1="505.2" x2="286.3" y2="509.5" stroke="#000" stroke-width="1.6"/>
<line x1="306" y1="495.3" x2="306" y2="496.5" stroke="#000" stroke-width="1.5"/>
<line x1="302" y1="495.3" x2="310" y2="495.3" stroke="#000" stroke-width="1.6"/>
<rect x="298.5" y="496.5" width="15" height="8.7" fill="#000"/>
<line x1="306" y1="505.2" x2="306" y2="509.5" stroke="#000" stroke-width="1.6"/>
<line x1="325.7" y1="496.6" x2="325.7" y2="496.9" stroke="#000" stroke-width="1.5"/>
<line x1="321.7" y1="496.6" x2="329.7" y2="496.6" stroke="#000" stroke-width="1.6"/>
<rect x="318.2" y="496.9" width="15" height="8.3" fill="#000"/>
<line x1="325.7" y1="505.2" x2="325.7" y2="509.5" stroke="#000" stroke-width="1.6"/>
<line x1="345.4" y1="496.9" x2="345.4" y2="497.2" stroke="#000" stroke-width="1.5"/>
<line x1="341.4" y1="496.9" x2="349.4" y2="496.9" stroke="#000" stroke-width="1.6"/>
<rect x="337.9" y="497.2" width="15" height="8" fill="#000"/>
<line x1="345.4" y1="505.2" x2="345.4" y2="509.5" stroke="#000" stroke-width="1.6"/>
<polyline points="276.8,366.8 276.8,505.2 354.7,505.2" fill="none" stroke="#000" stroke-width="1.9" stroke-linejoin="miter"/>
<line x1="272" y1="505.2" x2="276.8" y2="505.2" stroke="#000" stroke-width="1.6"/>
<text x="271.2" y="509.5" font-size="10.2" font-weight="normal" text-anchor="end" fill="#000"  stroke="#000" stroke-width="0.3">0</text>
<line x1="272" y1="459.3" x2="276.8" y2="459.3" stroke="#000" stroke-width="1.6"/>
<text x="271.2" y="463.6" font-size="10.2" font-weight="normal" text-anchor="end" fill="#000"  stroke="#000" stroke-width="0.3">50</text>
<line x1="272" y1="413.5" x2="276.8" y2="413.5" stroke="#000" stroke-width="1.6"/>
<text x="271.2" y="417.8" font-size="10.2" font-weight="normal" text-anchor="end" fill="#000"  stroke="#000" stroke-width="0.3">100</text>
<line x1="272" y1="367.6" x2="276.8" y2="367.6" stroke="#000" stroke-width="1.6"/>
<text x="271.2" y="371.9" font-size="10.2" font-weight="normal" text-anchor="end" fill="#000"  stroke="#000" stroke-width="0.3">150</text>
<text x="288.8" y="517.2" font-size="10.2" font-weight="normal" text-anchor="end" fill="#000" transform="rotate(-45 288.8 517.2)" stroke="#000" stroke-width="0.3">0</text>
<text x="308.5" y="517.2" font-size="10.2" font-weight="normal" text-anchor="end" fill="#000" transform="rotate(-45 308.5 517.2)" stroke="#000" stroke-width="0.3">2.5</text>
<text x="328.2" y="517.2" font-size="10.2" font-weight="normal" text-anchor="end" fill="#000" transform="rotate(-45 328.2 517.2)" stroke="#000" stroke-width="0.3">5</text>
<text x="347.9" y="517.2" font-size="10.2" font-weight="normal" text-anchor="end" fill="#000" transform="rotate(-45 347.9 517.2)" stroke="#000" stroke-width="0.3">10</text>
<polygon points="303.6,483 304.3,484.5 305.9,484.7 304.7,485.8 305,487.3 303.6,486.5 302.2,487.3 302.5,485.8 301.4,484.7 302.9,484.5" fill="#000"/>
<polygon points="307.8,483 308.5,484.5 310,484.7 308.9,485.8 309.2,487.3 307.8,486.5 306.4,487.3 306.7,485.8 305.5,484.7 307.1,484.5" fill="#000"/>
<polygon points="323.4,485.8 324.1,487.3 325.7,487.5 324.5,488.6 324.8,490.1 323.4,489.3 322,490.1 322.3,488.6 321.2,487.5 322.7,487.3" fill="#000"/>
<polygon points="327.6,485.8 328.3,487.3 329.8,487.5 328.7,488.6 329,490.1 327.6,489.3 326.2,490.1 326.5,488.6 325.3,487.5 326.9,487.3" fill="#000"/>
<polygon points="343.7,489.9 344.4,491.4 346,491.6 344.8,492.7 345.1,494.2 343.7,493.4 342.3,494.2 342.6,492.7 341.5,491.6 343,491.4" fill="#000"/>
<polygon points="347.9,489.9 348.6,491.4 350.1,491.6 349,492.7 349.3,494.2 347.9,493.4 346.5,494.2 346.8,492.7 345.6,491.6 347.2,491.4" fill="#000"/>
<text x="319" y="356.6" font-size="11.3" font-weight="bold" text-anchor="middle" fill="#000"  textLength="33.4" lengthAdjust="spacingAndGlyphs">TNF-<tspan font-family="Liberation Serif" font-weight="normal" font-size="12">α</tspan></text>
<line x1="383.5" y1="398.6" x2="383.5" y2="403" stroke="#000" stroke-width="1.5"/>
<line x1="379.5" y1="398.6" x2="387.5" y2="398.6" stroke="#000" stroke-width="1.6"/>
<rect x="376" y="403" width="15" height="102.2" fill="#000"/>
<line x1="383.5" y1="505.2" x2="383.5" y2="509.5" stroke="#000" stroke-width="1.6"/>
<line x1="403.1" y1="467.7" x2="403.1" y2="473.6" stroke="#000" stroke-width="1.5"/>
<line x1="399.1" y1="467.7" x2="407.1" y2="467.7" stroke="#000" stroke-width="1.6"/>
<rect x="395.6" y="473.6" width="15" height="31.6" fill="#000"/>
<line x1="403.1" y1="505.2" x2="403.1" y2="509.5" stroke="#000" stroke-width="1.6"/>
<line x1="422.7" y1="467.4" x2="422.7" y2="475.3" stroke="#000" stroke-width="1.5"/>
<line x1="418.7" y1="467.4" x2="426.7" y2="467.4" stroke="#000" stroke-width="1.6"/>
<rect x="415.2" y="475.3" width="15" height="29.9" fill="#000"/>
<line x1="422.7" y1="505.2" x2="422.7" y2="509.5" stroke="#000" stroke-width="1.6"/>
<line x1="442.3" y1="467.7" x2="442.3" y2="470.1" stroke="#000" stroke-width="1.5"/>
<line x1="438.3" y1="467.7" x2="446.3" y2="467.7" stroke="#000" stroke-width="1.6"/>
<rect x="434.8" y="470.1" width="15" height="35.1" fill="#000"/>
<line x1="442.3" y1="505.2" x2="442.3" y2="509.5" stroke="#000" stroke-width="1.6"/>
<polyline points="373.2,366.8 373.2,505.2 451.6,505.2" fill="none" stroke="#000" stroke-width="1.9" stroke-linejoin="miter"/>
<line x1="368.4" y1="505.2" x2="373.2" y2="505.2" stroke="#000" stroke-width="1.6"/>
<text x="367.6" y="509.5" font-size="10.2" font-weight="normal" text-anchor="end" fill="#000"  stroke="#000" stroke-width="0.3">0</text>
<line x1="368.4" y1="470.8" x2="373.2" y2="470.8" stroke="#000" stroke-width="1.6"/>
<text x="367.6" y="475.1" font-size="10.2" font-weight="normal" text-anchor="end" fill="#000"  stroke="#000" stroke-width="0.3">100</text>
<line x1="368.4" y1="436.4" x2="373.2" y2="436.4" stroke="#000" stroke-width="1.6"/>
<text x="367.6" y="440.7" font-size="10.2" font-weight="normal" text-anchor="end" fill="#000"  stroke="#000" stroke-width="0.3">200</text>
<line x1="368.4" y1="402" x2="373.2" y2="402" stroke="#000" stroke-width="1.6"/>
<text x="367.6" y="406.3" font-size="10.2" font-weight="normal" text-anchor="end" fill="#000"  stroke="#000" stroke-width="0.3">300</text>
<line x1="368.4" y1="367.6" x2="373.2" y2="367.6" stroke="#000" stroke-width="1.6"/>
<text x="367.6" y="371.9" font-size="10.2" font-weight="normal" text-anchor="end" fill="#000"  stroke="#000" stroke-width="0.3">400</text>
<text x="386" y="517.2" font-size="10.2" font-weight="normal" text-anchor="end" fill="#000" transform="rotate(-45 386 517.2)" stroke="#000" stroke-width="0.3">0</text>
<text x="405.6" y="517.2" font-size="10.2" font-weight="normal" text-anchor="end" fill="#000" transform="rotate(-45 405.6 517.2)" stroke="#000" stroke-width="0.3">2.5</text>
<text x="425.2" y="517.2" font-size="10.2" font-weight="normal" text-anchor="end" fill="#000" transform="rotate(-45 425.2 517.2)" stroke="#000" stroke-width="0.3">5</text>
<text x="444.8" y="517.2" font-size="10.2" font-weight="normal" text-anchor="end" fill="#000" transform="rotate(-45 444.8 517.2)" stroke="#000" stroke-width="0.3">10</text>
<polygon points="399.4,446.3 400,447.8 401.6,448 400.4,449.1 400.7,450.6 399.4,449.8 398,450.6 398.3,449.1 397.1,448 398.7,447.8" fill="#000"/>
<polygon points="403.5,446.3 404.2,447.8 405.7,448 404.6,449.1 404.9,450.6 403.5,449.8 402.1,450.6 402.4,449.1 401.3,448 402.8,447.8" fill="#000"/>
<polygon points="407.6,446.3 408.3,447.8 409.9,448 408.7,449.1 409,450.6 407.6,449.8 406.3,450.6 406.6,449.1 405.4,448 407,447.8" fill="#000"/>
<polygon points="417.1,441.8 417.7,443.3 419.3,443.5 418.1,444.6 418.4,446.1 417.1,445.3 415.7,446.1 416,444.6 414.8,443.5 416.4,443.3" fill="#000"/>
<polygon points="421.2,441.8 421.9,443.3 423.4,443.5 422.3,444.6 422.6,446.1 421.2,445.3 419.8,446.1 420.1,444.6 419,443.5 420.5,443.3" fill="#000"/>
<polygon points="425.3,441.8 426,443.3 427.6,443.5 426.4,444.6 426.7,446.1 425.3,445.3 424,446.1 424.3,444.6 423.1,443.5 424.7,443.3" fill="#000"/>
<polygon points="441.2,445.3 441.9,446.8 443.5,447 442.3,448.1 442.6,449.6 441.2,448.8 439.8,449.6 440.1,448.1 439,447 440.5,446.8" fill="#000"/>
<polygon points="445.4,445.3 446.1,446.8 447.6,447 446.5,448.1 446.8,449.6 445.4,448.8 444,449.6 444.3,448.1 443.1,447 444.7,446.8" fill="#000"/>
<text x="426.5" y="357" font-size="11.3" font-weight="bold" text-anchor="middle" fill="#000"  textLength="27.6" lengthAdjust="spacingAndGlyphs">IFN-<tspan font-family="Liberation Serif" font-weight="normal" font-size="12">γ</tspan></text>
<text x="474.3" y="437" font-size="11" font-weight="bold" text-anchor="middle" fill="#000" >CD4</text>
<line x1="89.8" y1="543" x2="89.8" y2="580.5" stroke="#000" stroke-width="1.5"/>
<line x1="85.8" y1="543" x2="93.8" y2="543" stroke="#000" stroke-width="1.6"/>
<rect x="82.3" y="580.5" width="15" height="89.4" fill="#000"/>
<line x1="89.8" y1="669.9" x2="89.8" y2="674.2" stroke="#000" stroke-width="1.6"/>
<line x1="109.5" y1="663.3" x2="109.5" y2="663.7" stroke="#000" stroke-width="1.5"/>
<line x1="105.5" y1="663.3" x2="113.5" y2="663.3" stroke="#000" stroke-width="1.6"/>
<rect x="102" y="663.7" width="15" height="6.2" fill="#000"/>
<line x1="109.5" y1="669.9" x2="109.5" y2="674.2" stroke="#000" stroke-width="1.6"/>
<line x1="129.2" y1="665.9" x2="129.2" y2="666.2" stroke="#000" stroke-width="1.5"/>
<line x1="125.2" y1="665.9" x2="133.2" y2="665.9" stroke="#000" stroke-width="1.6"/>
<rect x="121.7" y="666.2" width="15" height="3.7" fill="#000"/>
<line x1="129.2" y1="669.9" x2="129.2" y2="674.2" stroke="#000" stroke-width="1.6"/>
<line x1="148.9" y1="666.2" x2="148.9" y2="666.8" stroke="#000" stroke-width="1.5"/>
<line x1="144.9" y1="666.2" x2="152.9" y2="666.2" stroke="#000" stroke-width="1.6"/>
<rect x="141.4" y="666.8" width="15" height="3.1" fill="#000"/>
<line x1="148.9" y1="669.9" x2="148.9" y2="674.2" stroke="#000" stroke-width="1.6"/>
<polyline points="80,532.2 80,669.9 158.2,669.9" fill="none" stroke="#000" stroke-width="1.9" stroke-linejoin="miter"/>
<line x1="75.2" y1="669.9" x2="80" y2="669.9" stroke="#000" stroke-width="1.6"/>
<text x="74.4" y="674.2" font-size="10.2" font-weight="normal" text-anchor="end" fill="#000"  stroke="#000" stroke-width="0.3">0</text>
<line x1="75.2" y1="624.3" x2="80" y2="624.3" stroke="#000" stroke-width="1.6"/>
<text x="74.4" y="628.6" font-size="10.2" font-weight="normal" text-anchor="end" fill="#000"  stroke="#000" stroke-width="0.3">500</text>
<line x1="75.2" y1="578.6" x2="80" y2="578.6" stroke="#000" stroke-width="1.6"/>
<text x="74.4" y="582.9" font-size="10.2" font-weight="normal" text-anchor="end" fill="#000"  stroke="#000" stroke-width="0.3">1,000</text>
<line x1="75.2" y1="533" x2="80" y2="533" stroke="#000" stroke-width="1.6"/>
<text x="74.4" y="537.3" font-size="10.2" font-weight="normal" text-anchor="end" fill="#000"  stroke="#000" stroke-width="0.3">1,500</text>
<text x="92.3" y="681.9" font-size="10.2" font-weight="normal" text-anchor="end" fill="#000" transform="rotate(-45 92.3 681.9)" stroke="#000" stroke-width="0.3">0</text>
<text x="112" y="681.9" font-size="10.2" font-weight="normal" text-anchor="end" fill="#000" transform="rotate(-45 112 681.9)" stroke="#000" stroke-width="0.3">2.5</text>
<text x="131.7" y="681.9" font-size="10.2" font-weight="normal" text-anchor="end" fill="#000" transform="rotate(-45 131.7 681.9)" stroke="#000" stroke-width="0.3">5</text>
<text x="151.4" y="681.9" font-size="10.2" font-weight="normal" text-anchor="end" fill="#000" transform="rotate(-45 151.4 681.9)" stroke="#000" stroke-width="0.3">10</text>
<polygon points="106.9,646.9 107.6,648.3 109.1,648.5 108,649.6 108.3,651.1 106.9,650.4 105.5,651.1 105.8,649.6 104.7,648.5 106.2,648.3" fill="#000"/>
<polygon points="128.6,648.9 129.3,650.3 130.8,650.5 129.7,651.6 130,653.1 128.6,652.4 127.2,653.1 127.5,651.6 126.4,650.5 127.9,650.3" fill="#000"/>
<polygon points="148.5,651.5 149.2,652.9 150.7,653.1 149.6,654.2 149.9,655.7 148.5,655 147.1,655.7 147.4,654.2 146.3,653.1 147.8,652.9" fill="#000"/>
<line x1="187" y1="556.7" x2="187" y2="578.6" stroke="#000" stroke-width="1.5"/>
<line x1="183" y1="556.7" x2="191" y2="556.7" stroke="#000" stroke-width="1.6"/>
<rect x="179.5" y="578.6" width="15" height="91.3" fill="#000"/>
<line x1="187" y1="669.9" x2="187" y2="674.2" stroke="#000" stroke-width="1.6"/>
<line x1="206.7" y1="620.6" x2="206.7" y2="637.5" stroke="#000" stroke-width="1.5"/>
<line x1="202.7" y1="620.6" x2="210.7" y2="620.6" stroke="#000" stroke-width="1.6"/>
<rect x="199.2" y="637.5" width="15" height="32.4" fill="#000"/>
<line x1="206.7" y1="669.9" x2="206.7" y2="674.2" stroke="#000" stroke-width="1.6"/>
<line x1="226.4" y1="641.6" x2="226.4" y2="645.3" stroke="#000" stroke-width="1.5"/>
<line x1="222.4" y1="641.6" x2="230.4" y2="641.6" stroke="#000" stroke-width="1.6"/>
<rect x="218.9" y="645.3" width="15" height="24.6" fill="#000"/>
<line x1="226.4" y1="669.9" x2="226.4" y2="674.2" stroke="#000" stroke-width="1.6"/>
<line x1="246.1" y1="651.9" x2="246.1" y2="655.8" stroke="#000" stroke-width="1.5"/>
<line x1="242.1" y1="651.9" x2="250.1" y2="651.9" stroke="#000" stroke-width="1.6"/>
<rect x="238.6" y="655.8" width="15" height="14.1" fill="#000"/>
<line x1="246.1" y1="669.9" x2="246.1" y2="674.2" stroke="#000" stroke-width="1.6"/>
<polyline points="176.4,532.2 176.4,669.9 255.4,669.9" fill="none" stroke="#000" stroke-width="1.9" stroke-linejoin="miter"/>
<line x1="171.6" y1="669.9" x2="176.4" y2="669.9" stroke="#000" stroke-width="1.6"/>
<text x="170.8" y="674.2" font-size="10.2" font-weight="normal" text-anchor="end" fill="#000"  stroke="#000" stroke-width="0.3">0</text>
<line x1="171.6" y1="624.3" x2="176.4" y2="624.3" stroke="#000" stroke-width="1.6"/>
<text x="170.8" y="628.6" font-size="10.2" font-weight="normal" text-anchor="end" fill="#000"  stroke="#000" stroke-width="0.3">50</text>
<line x1="171.6" y1="578.6" x2="176.4" y2="578.6" stroke="#000" stroke-width="1.6"/>
<text x="170.8" y="582.9" font-size="10.2" font-weight="normal" text-anchor="end" fill="#000"  stroke="#000" stroke-width="0.3">100</text>
<line x1="171.6" y1="533" x2="176.4" y2="533" stroke="#000" stroke-width="1.6"/>
<text x="170.8" y="537.3" font-size="10.2" font-weight="normal" text-anchor="end" fill="#000"  stroke="#000" stroke-width="0.3">150</text>
<text x="189.5" y="681.9" font-size="10.2" font-weight="normal" text-anchor="end" fill="#000" transform="rotate(-45 189.5 681.9)" stroke="#000" stroke-width="0.3">0</text>
<text x="209.2" y="681.9" font-size="10.2" font-weight="normal" text-anchor="end" fill="#000" transform="rotate(-45 209.2 681.9)" stroke="#000" stroke-width="0.3">2.5</text>
<text x="228.9" y="681.9" font-size="10.2" font-weight="normal" text-anchor="end" fill="#000" transform="rotate(-45 228.9 681.9)" stroke="#000" stroke-width="0.3">5</text>
<text x="248.6" y="681.9" font-size="10.2" font-weight="normal" text-anchor="end" fill="#000" transform="rotate(-45 248.6 681.9)" stroke="#000" stroke-width="0.3">10</text>
<text x="210" y="610" font-size="10.3" font-weight="bold" text-anchor="middle" fill="#000" >n.s.</text>
<polygon points="220.4,614.1 221.1,615.6 222.6,615.8 221.5,616.9 221.8,618.4 220.4,617.6 219,618.4 219.3,616.9 218.2,615.8 219.7,615.6" fill="#000"/>
<polygon points="241.2,625.8 241.9,627.2 243.4,627.4 242.3,628.5 242.6,630 241.2,629.2 239.8,630 240.1,628.5 239,627.4 240.5,627.2" fill="#000"/>
<line x1="285.7" y1="561.1" x2="285.7" y2="591.2" stroke="#000" stroke-width="1.5"/>
<line x1="281.7" y1="561.1" x2="289.7" y2="561.1" stroke="#000" stroke-width="1.6"/>
<rect x="278.2" y="591.2" width="15" height="78.7" fill="#000"/>
<line x1="285.7" y1="669.9" x2="285.7" y2="674.2" stroke="#000" stroke-width="1.6"/>
<line x1="305.4" y1="666.1" x2="305.4" y2="666.3" stroke="#000" stroke-width="1.5"/>
<line x1="301.4" y1="666.1" x2="309.4" y2="666.1" stroke="#000" stroke-width="1.6"/>
<rect x="297.9" y="666.3" width="15" height="3.6" fill="#000"/>
<line x1="305.4" y1="669.9" x2="305.4" y2="674.2" stroke="#000" stroke-width="1.6"/>
<line x1="325.1" y1="666.5" x2="325.1" y2="666.6" stroke="#000" stroke-width="1.5"/>
<line x1="321.1" y1="666.5" x2="329.1" y2="666.5" stroke="#000" stroke-width="1.6"/>
<rect x="317.6" y="666.6" width="15" height="3.3" fill="#000"/>
<line x1="325.1" y1="669.9" x2="325.1" y2="674.2" stroke="#000" stroke-width="1.6"/>
<line x1="344.8" y1="666.5" x2="344.8" y2="666.6" stroke="#000" stroke-width="1.5"/>
<line x1="340.8" y1="666.5" x2="348.8" y2="666.5" stroke="#000" stroke-width="1.6"/>
<rect x="337.3" y="666.6" width="15" height="3.3" fill="#000"/>
<line x1="344.8" y1="669.9" x2="344.8" y2="674.2" stroke="#000" stroke-width="1.6"/>
<polyline points="275.8,532.2 275.8,669.9 354.1,669.9" fill="none" stroke="#000" stroke-width="1.9" stroke-linejoin="miter"/>
<line x1="271" y1="669.9" x2="275.8" y2="669.9" stroke="#000" stroke-width="1.6"/>
<text x="270.2" y="674.2" font-size="10.2" font-weight="normal" text-anchor="end" fill="#000"  stroke="#000" stroke-width="0.3">0</text>
<line x1="271" y1="635.7" x2="275.8" y2="635.7" stroke="#000" stroke-width="1.6"/>
<text x="270.2" y="640" font-size="10.2" font-weight="normal" text-anchor="end" fill="#000"  stroke="#000" stroke-width="0.3">50</text>
<line x1="271" y1="601.5" x2="275.8" y2="601.5" stroke="#000" stroke-width="1.6"/>
<text x="270.2" y="605.8" font-size="10.2" font-weight="normal" text-anchor="end" fill="#000"  stroke="#000" stroke-width="0.3">100</text>
<line x1="271" y1="567.2" x2="275.8" y2="567.2" stroke="#000" stroke-width="1.6"/>
<text x="270.2" y="571.5" font-size="10.2" font-weight="normal" text-anchor="end" fill="#000"  stroke="#000" stroke-width="0.3">150</text>
<line x1="271" y1="533" x2="275.8" y2="533" stroke="#000" stroke-width="1.6"/>
<text x="270.2" y="537.3" font-size="10.2" font-weight="normal" text-anchor="end" fill="#000"  stroke="#000" stroke-width="0.3">200</text>
<text x="288.2" y="681.9" font-size="10.2" font-weight="normal" text-anchor="end" fill="#000" transform="rotate(-45 288.2 681.9)" stroke="#000" stroke-width="0.3">0</text>
<text x="307.9" y="681.9" font-size="10.2" font-weight="normal" text-anchor="end" fill="#000" transform="rotate(-45 307.9 681.9)" stroke="#000" stroke-width="0.3">2.5</text>
<text x="327.6" y="681.9" font-size="10.2" font-weight="normal" text-anchor="end" fill="#000" transform="rotate(-45 327.6 681.9)" stroke="#000" stroke-width="0.3">5</text>
<text x="347.3" y="681.9" font-size="10.2" font-weight="normal" text-anchor="end" fill="#000" transform="rotate(-45 347.3 681.9)" stroke="#000" stroke-width="0.3">10</text>
<polygon points="305.2,651.1 305.9,652.6 307.4,652.8 306.3,653.9 306.6,655.4 305.2,654.6 303.8,655.4 304.1,653.9 303,652.8 304.5,652.6" fill="#000"/>
<polygon points="323.3,649.8 324,651.2 325.5,651.4 324.4,652.5 324.7,654 323.3,653.2 321.9,654 322.2,652.5 321.1,651.4 322.6,651.2" fill="#000"/>
<polygon points="344.6,649.8 345.3,651.2 346.8,651.4 345.7,652.5 346,654 344.6,653.2 343.2,654 343.5,652.5 342.4,651.4 343.9,651.2" fill="#000"/>
<line x1="382.7" y1="556.1" x2="382.7" y2="594.6" stroke="#000" stroke-width="1.5"/>
<line x1="378.7" y1="556.1" x2="386.7" y2="556.1" stroke="#000" stroke-width="1.6"/>
<rect x="375.2" y="594.6" width="15" height="75.3" fill="#000"/>
<line x1="382.7" y1="669.9" x2="382.7" y2="674.2" stroke="#000" stroke-width="1.6"/>
<line x1="402.2" y1="658.8" x2="402.2" y2="659.3" stroke="#000" stroke-width="1.5"/>
<line x1="398.2" y1="658.8" x2="406.2" y2="658.8" stroke="#000" stroke-width="1.6"/>
<rect x="394.7" y="659.3" width="15" height="10.6" fill="#000"/>
<line x1="402.2" y1="669.9" x2="402.2" y2="674.2" stroke="#000" stroke-width="1.6"/>
<line x1="421.7" y1="659.3" x2="421.7" y2="659.6" stroke="#000" stroke-width="1.5"/>
<line x1="417.7" y1="659.3" x2="425.7" y2="659.3" stroke="#000" stroke-width="1.6"/>
<rect x="414.2" y="659.6" width="15" height="10.3" fill="#000"/>
<line x1="421.7" y1="669.9" x2="421.7" y2="674.2" stroke="#000" stroke-width="1.6"/>
<line x1="441.2" y1="660.1" x2="441.2" y2="660.8" stroke="#000" stroke-width="1.5"/>
<line x1="437.2" y1="660.1" x2="445.2" y2="660.1" stroke="#000" stroke-width="1.6"/>
<rect x="433.7" y="660.8" width="15" height="9.1" fill="#000"/>
<line x1="441.2" y1="669.9" x2="441.2" y2="674.2" stroke="#000" stroke-width="1.6"/>
<polyline points="373,532.2 373,669.9 450.5,669.9" fill="none" stroke="#000" stroke-width="1.9" stroke-linejoin="miter"/>
<line x1="368.2" y1="669.9" x2="373" y2="669.9" stroke="#000" stroke-width="1.6"/>
<text x="367.4" y="674.2" font-size="10.2" font-weight="normal" text-anchor="end" fill="#000"  stroke="#000" stroke-width="0.3">0</text>
<line x1="368.2" y1="635.7" x2="373" y2="635.7" stroke="#000" stroke-width="1.6"/>
<text x="367.4" y="640" font-size="10.2" font-weight="normal" text-anchor="end" fill="#000"  stroke="#000" stroke-width="0.3">200</text>
<line x1="368.2" y1="601.5" x2="373" y2="601.5" stroke="#000" stroke-width="1.6"/>
<text x="367.4" y="605.8" font-size="10.2" font-weight="normal" text-anchor="end" fill="#000"  stroke="#000" stroke-width="0.3">400</text>
<line x1="368.2" y1="567.2" x2="373" y2="567.2" stroke="#000" stroke-width="1.6"/>
<text x="367.4" y="571.5" font-size="10.2" font-weight="normal" text-anchor="end" fill="#000"  stroke="#000" stroke-width="0.3">600</text>
<line x1="368.2" y1="533" x2="373" y2="533" stroke="#000" stroke-width="1.6"/>
<text x="367.4" y="537.3" font-size="10.2" font-weight="normal" text-anchor="end" fill="#000"  stroke="#000" stroke-width="0.3">800</text>
<text x="385.2" y="681.9" font-size="10.2" font-weight="normal" text-anchor="end" fill="#000" transform="rotate(-45 385.2 681.9)" stroke="#000" stroke-width="0.3">0</text>
<text x="404.7" y="681.9" font-size="10.2" font-weight="normal" text-anchor="end" fill="#000" transform="rotate(-45 404.7 681.9)" stroke="#000" stroke-width="0.3">2.5</text>
<text x="424.2" y="681.9" font-size="10.2" font-weight="normal" text-anchor="end" fill="#000" transform="rotate(-45 424.2 681.9)" stroke="#000" stroke-width="0.3">5</text>
<text x="443.7" y="681.9" font-size="10.2" font-weight="normal" text-anchor="end" fill="#000" transform="rotate(-45 443.7 681.9)" stroke="#000" stroke-width="0.3">10</text>
<text x="422.7" y="634" font-size="10.3" font-weight="bold" text-anchor="middle" fill="#000" >n.s.</text>
<text x="474.8" y="603.8" font-size="11" font-weight="bold" text-anchor="middle" fill="#000" >CD8</text>
<text x="263.5" y="705.6" font-size="11.2" font-weight="bold" text-anchor="middle" fill="#000" >VISTA-Ig (<tspan font-family="Liberation Serif" font-weight="normal">μ</tspan>g/mL)</text>
<text x="38" y="506.4" font-size="12.7" font-weight="bold" text-anchor="middle" fill="#000" transform="rotate(-90 38.0 506.4)" textLength="134.5" lengthAdjust="spacingAndGlyphs">Concentration (pg/mL)</text>
</svg></body></html>
